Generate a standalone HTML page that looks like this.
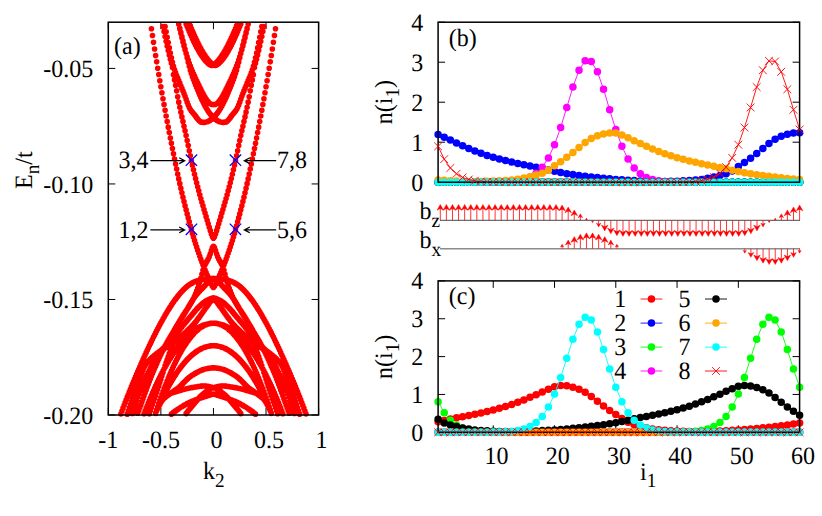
<!DOCTYPE html>
<html><head><meta charset="utf-8"><title>figure</title>
<style>html,body{margin:0;padding:0;background:#fff}svg{display:block}text{font-family:"Liberation Serif", serif;fill:#000;text-rendering:geometricPrecision}</style>
</head><body>
<svg width="822" height="516" viewBox="0 0 822 516">
<rect width="822" height="516" fill="#fff"/>
<g id="pa">
<path d="M108.3 68.41h7 M318.6 68.41h-7M108.3 183.94h7 M318.6 183.94h-7M108.3 299.47h7 M318.6 299.47h-7M108.3 415h7 M318.6 415h-7M108.3 415v-7 M108.3 22.2v7M160.88 415v-7 M160.88 22.2v7M213.45 415v-7 M213.45 22.2v7M266.03 415v-7 M266.03 22.2v7M318.6 415v-7 M318.6 22.2v7" stroke="#000" stroke-width="1" fill="none"/>
<clipPath id="ca"><rect x="105.3" y="22" width="216.3" height="396"/></clipPath>
<path clip-path="url(#ca)" d="M151.41 28.8h.01M152.46 35.55h.01M153.51 42.29h.01M154.57 48.94h.01M155.62 55.45h.01M156.67 61.86h.01M157.72 68.21h.01M158.77 74.49h.01M159.82 80.69h.01M160.88 86.8h.01M161.93 92.82h.01M162.98 98.73h.01M164.03 104.57h.01M165.08 110.32h.01M166.13 116h.01M167.18 121.61h.01M168.24 127.14h.01M169.29 132.59h.01M170.34 137.96h.01M171.39 143.26h.01M172.44 148.53h.01M173.49 153.76h.01M174.54 158.93h.01M175.6 164.05h.01M176.65 169.09h.01M177.7 174.05h.01M178.75 178.91h.01M179.8 183.66h.01M180.85 188.29h.01M181.91 192.79h.01M182.96 197.19h.01M184.01 201.49h.01M185.06 205.71h.01M186.11 209.85h.01M187.16 213.91h.01M188.21 217.91h.01M189.27 221.86h.01M190.32 225.76h.01M191.37 229.62h.01M192.42 233.42h.01M193.47 237.09h.01M194.52 240.55h.01M195.57 243.87h.01M196.63 247.11h.01M197.68 250.27h.01M198.73 253.34h.01M199.78 256.34h.01M200.83 259.26h.01M201.88 262.1h.01M202.94 264.87h.01M203.99 267.55h.01M205.04 270.11h.01M206.09 272.59h.01M207.14 275.02h.01M208.19 277.41h.01M209.24 279.81h.01M210.3 282.14h.01M211.35 284.31h.01M212.4 286.23h.01M213.45 287.4h.01M214.5 286.23h.01M215.55 284.31h.01M216.6 282.14h.01M217.66 279.81h.01M218.71 277.41h.01M219.76 275.02h.01M220.81 272.59h.01M221.86 270.11h.01M222.91 267.55h.01M223.97 264.87h.01M225.02 262.1h.01M226.07 259.26h.01M227.12 256.34h.01M228.17 253.34h.01M229.22 250.27h.01M230.27 247.11h.01M231.33 243.87h.01M232.38 240.55h.01M233.43 237.09h.01M234.48 233.42h.01M235.53 229.62h.01M236.58 225.76h.01M237.63 221.86h.01M238.69 217.91h.01M239.74 213.91h.01M240.79 209.85h.01M241.84 205.71h.01M242.89 201.49h.01M243.94 197.19h.01M245 192.79h.01M246.05 188.29h.01M247.1 183.66h.01M248.15 178.91h.01M249.2 174.05h.01M250.25 169.09h.01M251.3 164.05h.01M252.36 158.93h.01M253.41 153.76h.01M254.46 148.53h.01M255.51 143.26h.01M256.56 137.96h.01M257.61 132.59h.01M258.66 127.14h.01M259.72 121.61h.01M260.77 116h.01M261.82 110.32h.01M262.87 104.57h.01M263.92 98.73h.01M264.97 92.82h.01M266.02 86.8h.01M267.08 80.69h.01M268.13 74.49h.01M269.18 68.21h.01M270.23 61.86h.01M271.28 55.45h.01M272.33 48.94h.01M273.39 42.29h.01M274.44 35.55h.01M275.49 28.8h.01M162.98 26.55h.01M164.03 31.61h.01M165.08 36.52h.01M166.13 41.3h.01M167.18 45.96h.01M168.24 50.51h.01M169.29 54.96h.01M170.34 59.33h.01M171.39 63.27h.01M172.44 67.61h.01M173.49 74.66h.01M174.54 79.89h.01M175.6 85.2h.01M176.65 90.85h.01M177.7 96.74h.01M178.75 102.17h.01M179.8 107.27h.01M180.85 112.16h.01M181.91 116.91h.01M182.96 121.57h.01M184.01 126.2h.01M185.06 130.85h.01M186.11 135.59h.01M187.16 140.46h.01M188.21 145.55h.01M189.27 150.75h.01M190.32 155.87h.01M191.37 160.73h.01M192.42 165.36h.01M193.47 169.87h.01M194.52 174.27h.01M195.57 178.56h.01M196.63 182.75h.01M197.68 186.85h.01M198.73 190.87h.01M199.78 194.75h.01M200.83 198.53h.01M201.88 202.21h.01M202.94 205.85h.01M203.99 209.47h.01M205.04 213.09h.01M206.09 216.66h.01M207.14 220.2h.01M208.19 223.73h.01M209.24 227.23h.01M210.3 230.67h.01M211.35 233.95h.01M212.4 236.82h.01M213.45 238.2h.01M214.5 236.82h.01M215.55 233.95h.01M216.6 230.67h.01M217.66 227.23h.01M218.71 223.73h.01M219.76 220.2h.01M220.81 216.66h.01M221.86 213.09h.01M222.91 209.47h.01M223.97 205.85h.01M225.02 202.21h.01M226.07 198.53h.01M227.12 194.75h.01M228.17 190.87h.01M229.22 186.85h.01M230.27 182.75h.01M231.33 178.56h.01M232.38 174.27h.01M233.43 169.87h.01M234.48 165.36h.01M235.53 160.73h.01M236.58 155.87h.01M237.63 150.75h.01M238.69 145.55h.01M239.74 140.46h.01M240.79 135.59h.01M241.84 130.85h.01M242.89 126.2h.01M243.94 121.57h.01M245 116.91h.01M246.05 112.16h.01M247.1 107.27h.01M248.15 102.17h.01M249.2 96.74h.01M250.25 90.85h.01M251.3 85.2h.01M252.36 79.89h.01M253.41 74.66h.01M254.46 67.61h.01M255.51 63.27h.01M256.56 59.33h.01M257.61 54.96h.01M258.66 50.51h.01M259.72 45.96h.01M260.77 41.3h.01M261.82 36.52h.01M262.87 31.61h.01M263.92 26.55h.01M186.11 23.89h.01M187.16 26.51h.01M188.21 29.06h.01M189.27 31.55h.01M190.32 33.98h.01M191.37 36.35h.01M192.42 38.64h.01M193.47 40.88h.01M194.52 43.04h.01M195.57 45.13h.01M196.63 47.14h.01M197.68 49.08h.01M198.73 50.94h.01M199.78 52.72h.01M200.83 54.42h.01M201.88 56.03h.01M202.94 57.55h.01M203.99 58.97h.01M205.04 60.29h.01M206.09 61.5h.01M207.14 62.59h.01M208.19 63.55h.01M209.24 64.37h.01M210.3 65.01h.01M211.35 65.43h.01M212.4 65.36h.01M213.45 64.88h.01M214.5 64.19h.01M215.55 63.34h.01M216.6 62.35h.01M217.66 61.23h.01M218.71 59.99h.01M219.76 58.65h.01M220.81 57.2h.01M221.86 55.66h.01M222.91 54.03h.01M223.97 52.32h.01M225.02 50.52h.01M226.07 48.64h.01M227.12 46.68h.01M228.17 44.64h.01M229.22 42.54h.01M230.27 40.36h.01M231.33 38.11h.01M232.38 35.8h.01M233.43 33.42h.01M234.48 30.98h.01M235.53 28.47h.01M236.58 25.9h.01M237.63 23.27h.01M189.27 23.27h.01M190.32 25.9h.01M191.37 28.47h.01M192.42 30.98h.01M193.47 33.42h.01M194.52 35.8h.01M195.57 38.11h.01M196.63 40.36h.01M197.68 42.54h.01M198.73 44.64h.01M199.78 46.68h.01M200.83 48.64h.01M201.88 50.52h.01M202.94 52.32h.01M203.99 54.03h.01M205.04 55.66h.01M206.09 57.2h.01M207.14 58.65h.01M208.19 59.99h.01M209.24 61.23h.01M210.3 62.35h.01M211.35 63.34h.01M212.4 64.19h.01M213.45 64.88h.01M214.5 65.36h.01M215.55 65.43h.01M216.6 65.01h.01M217.66 64.37h.01M218.71 63.55h.01M219.76 62.59h.01M220.81 61.5h.01M221.86 60.29h.01M222.91 58.97h.01M223.97 57.55h.01M225.02 56.03h.01M226.07 54.42h.01M227.12 52.72h.01M228.17 50.94h.01M229.22 49.08h.01M230.27 47.14h.01M231.33 45.13h.01M232.38 43.04h.01M233.43 40.88h.01M234.48 38.64h.01M235.53 36.35h.01M236.58 33.98h.01M237.63 31.55h.01M238.69 29.06h.01M239.74 26.51h.01M240.79 23.89h.01M178.75 24.23h.01M179.8 28.88h.01M180.85 33.37h.01M181.91 37.71h.01M182.96 41.88h.01M184.01 45.88h.01M185.06 49.71h.01M186.11 53.36h.01M187.16 56.84h.01M188.21 60.12h.01M189.27 63.22h.01M190.32 66.12h.01M191.37 68.83h.01M192.42 71.37h.01M193.47 73.79h.01M194.52 76.14h.01M195.57 78.44h.01M196.63 80.7h.01M197.68 82.91h.01M198.73 85.1h.01M199.78 87.25h.01M200.83 89.38h.01M201.88 91.47h.01M202.94 93.52h.01M203.99 95.48h.01M205.04 97.33h.01M206.09 99.03h.01M207.14 100.56h.01M208.19 101.87h.01M209.24 102.94h.01M210.3 103.75h.01M211.35 104.28h.01M212.4 104.57h.01M213.45 104.61h.01M214.5 104.57h.01M215.55 104.28h.01M216.6 103.75h.01M217.66 102.94h.01M218.71 101.87h.01M219.76 100.56h.01M220.81 99.03h.01M221.86 97.33h.01M222.91 95.48h.01M223.97 93.52h.01M225.02 91.47h.01M226.07 89.38h.01M227.12 87.25h.01M228.17 85.1h.01M229.22 82.91h.01M230.27 80.7h.01M231.33 78.44h.01M232.38 76.14h.01M233.43 73.79h.01M234.48 71.37h.01M235.53 68.83h.01M236.58 66.12h.01M237.63 63.22h.01M238.69 60.12h.01M239.74 56.84h.01M240.79 53.36h.01M241.84 49.71h.01M242.89 45.88h.01M243.94 41.88h.01M245 37.71h.01M246.05 33.37h.01M247.1 28.88h.01M248.15 24.23h.01M165.08 26.49h.01M166.13 31.83h.01M167.18 37.23h.01M168.24 42.61h.01M169.29 47.88h.01M170.34 52.95h.01M171.39 57.76h.01M172.44 62.2h.01M173.49 66.21h.01M174.54 69.71h.01M175.6 72.77h.01M176.65 75.52h.01M177.7 78.08h.01M178.75 80.57h.01M179.8 83.11h.01M180.85 85.72h.01M181.91 88.33h.01M182.96 90.88h.01M184.01 93.45h.01M185.06 96.22h.01M186.11 99.23h.01M187.16 102.28h.01M188.21 105.12h.01M189.27 107.53h.01M190.32 109.43h.01M191.37 110.94h.01M192.42 112.24h.01M193.47 113.45h.01M194.52 114.74h.01M195.57 116.17h.01M196.63 117.66h.01M197.68 119.08h.01M198.73 120.33h.01M199.78 121.28h.01M200.83 121.9h.01M201.88 122.24h.01M202.94 122.36h.01M203.99 122.35h.01M205.04 122.23h.01M206.09 122.02h.01M207.14 121.71h.01M208.19 121.3h.01M209.24 120.78h.01M210.3 120.16h.01M211.35 119.43h.01M212.4 118.59h.01M213.45 117.64h.01M214.5 116.59h.01M215.55 115.41h.01M216.6 114.12h.01M217.66 112.72h.01M218.71 111.19h.01M219.76 109.55h.01M220.81 107.78h.01M221.86 105.9h.01M222.91 103.92h.01M223.97 101.83h.01M225.02 99.65h.01M226.07 97.38h.01M227.12 95.03h.01M228.17 92.6h.01M229.22 90.11h.01M230.27 87.55h.01M231.33 84.94h.01M232.38 82.28h.01M233.43 79.56h.01M234.48 76.7h.01M235.53 73.61h.01M236.58 70.19h.01M237.63 66.36h.01M238.69 62.13h.01M239.74 57.8h.01M240.79 53.5h.01M241.84 49.24h.01M242.89 45h.01M243.94 40.79h.01M245 36.59h.01M246.05 32.41h.01M247.1 28.23h.01M248.15 24.05h.01M178.75 24.05h.01M179.8 28.23h.01M180.85 32.41h.01M181.91 36.59h.01M182.96 40.79h.01M184.01 45h.01M185.06 49.24h.01M186.11 53.5h.01M187.16 57.8h.01M188.21 62.13h.01M189.27 66.36h.01M190.32 70.19h.01M191.37 73.61h.01M192.42 76.7h.01M193.47 79.56h.01M194.52 82.28h.01M195.57 84.94h.01M196.63 87.55h.01M197.68 90.11h.01M198.73 92.6h.01M199.78 95.03h.01M200.83 97.38h.01M201.88 99.65h.01M202.94 101.83h.01M203.99 103.92h.01M205.04 105.9h.01M206.09 107.78h.01M207.14 109.55h.01M208.19 111.19h.01M209.24 112.72h.01M210.3 114.12h.01M211.35 115.41h.01M212.4 116.59h.01M213.45 117.64h.01M214.5 118.59h.01M215.55 119.43h.01M216.6 120.16h.01M217.66 120.78h.01M218.71 121.3h.01M219.76 121.71h.01M220.81 122.02h.01M221.86 122.23h.01M222.91 122.35h.01M223.97 122.36h.01M225.02 122.24h.01M226.07 121.9h.01M227.12 121.28h.01M228.17 120.33h.01M229.22 119.08h.01M230.27 117.66h.01M231.33 116.17h.01M232.38 114.74h.01M233.43 113.45h.01M234.48 112.24h.01M235.53 110.94h.01M236.58 109.43h.01M237.63 107.53h.01M238.69 105.12h.01M239.74 102.28h.01M240.79 99.23h.01M241.84 96.22h.01M242.89 93.45h.01M243.94 90.88h.01M245 88.33h.01M246.05 85.72h.01M247.1 83.11h.01M248.15 80.57h.01M249.2 78.08h.01M250.25 75.52h.01M251.3 72.77h.01M252.36 69.71h.01M253.41 66.21h.01M254.46 62.2h.01M255.51 57.76h.01M256.56 52.95h.01M257.61 47.88h.01M258.66 42.61h.01M259.72 37.23h.01M260.77 31.83h.01M261.82 26.49h.01M120.92 413.87h.01M121.97 410.99h.01M123.02 408.15h.01M124.07 405.34h.01M125.12 402.58h.01M126.18 399.84h.01M127.23 397.14h.01M128.28 394.47h.01M129.33 391.84h.01M130.38 389.23h.01M131.43 386.65h.01M132.48 384.09h.01M133.54 381.56h.01M134.59 379.05h.01M135.64 376.56h.01M136.69 374.1h.01M137.74 371.65h.01M138.79 369.22h.01M139.84 366.8h.01M140.9 364.4h.01M141.95 362.01h.01M143 359.65h.01M144.05 357.3h.01M145.1 354.97h.01M146.15 352.66h.01M147.21 350.37h.01M148.26 348.11h.01M149.31 345.86h.01M150.36 343.64h.01M151.41 341.44h.01M152.46 339.27h.01M153.51 337.12h.01M154.57 335h.01M155.62 332.9h.01M156.67 330.83h.01M157.72 328.79h.01M158.77 326.78h.01M159.82 324.8h.01M160.88 322.85h.01M161.93 320.93h.01M162.98 319.04h.01M164.03 317.19h.01M165.08 315.36h.01M166.13 313.58h.01M167.18 311.82h.01M168.24 310.11h.01M169.29 308.42h.01M170.34 306.78h.01M171.39 305.17h.01M172.44 303.61h.01M173.49 302.08h.01M174.54 300.59h.01M175.6 299.15h.01M176.65 297.74h.01M177.7 296.39h.01M178.75 295.08h.01M179.8 293.81h.01M180.85 292.6h.01M181.91 291.43h.01M182.96 290.32h.01M184.01 289.26h.01M185.06 288.26h.01M186.11 287.31h.01M187.16 286.42h.01M188.21 285.6h.01M189.27 284.83h.01M190.32 284.12h.01M191.37 283.47h.01M192.42 282.88h.01M193.47 282.34h.01M194.52 281.85h.01M195.57 281.41h.01M196.63 281.01h.01M197.68 280.66h.01M198.73 280.34h.01M199.78 280.06h.01M200.83 279.81h.01M201.88 279.59h.01M202.94 279.4h.01M203.99 279.23h.01M205.04 279.09h.01M206.09 278.96h.01M207.14 278.85h.01M208.19 278.75h.01M209.24 278.66h.01M210.3 278.58h.01M211.35 278.5h.01M212.4 278.43h.01M213.45 278.35h.01M214.5 278.43h.01M215.55 278.5h.01M216.6 278.58h.01M217.66 278.66h.01M218.71 278.75h.01M219.76 278.85h.01M220.81 278.96h.01M221.86 279.09h.01M222.91 279.23h.01M223.97 279.4h.01M225.02 279.59h.01M226.07 279.81h.01M227.12 280.06h.01M228.17 280.34h.01M229.22 280.66h.01M230.27 281.01h.01M231.33 281.41h.01M232.38 281.85h.01M233.43 282.34h.01M234.48 282.88h.01M235.53 283.47h.01M236.58 284.12h.01M237.63 284.83h.01M238.69 285.6h.01M239.74 286.42h.01M240.79 287.31h.01M241.84 288.26h.01M242.89 289.26h.01M243.94 290.32h.01M245 291.43h.01M246.05 292.6h.01M247.1 293.81h.01M248.15 295.08h.01M249.2 296.39h.01M250.25 297.74h.01M251.3 299.15h.01M252.36 300.59h.01M253.41 302.08h.01M254.46 303.61h.01M255.51 305.17h.01M256.56 306.78h.01M257.61 308.42h.01M258.66 310.11h.01M259.72 311.82h.01M260.77 313.58h.01M261.82 315.36h.01M262.87 317.19h.01M263.92 319.04h.01M264.97 320.93h.01M266.02 322.85h.01M267.08 324.8h.01M268.13 326.78h.01M269.18 328.79h.01M270.23 330.83h.01M271.28 332.9h.01M272.33 335h.01M273.39 337.12h.01M274.44 339.27h.01M275.49 341.44h.01M276.54 343.64h.01M277.59 345.86h.01M278.64 348.11h.01M279.69 350.37h.01M280.75 352.66h.01M281.8 354.97h.01M282.85 357.3h.01M283.9 359.65h.01M284.95 362.01h.01M286 364.4h.01M287.06 366.8h.01M288.11 369.22h.01M289.16 371.65h.01M290.21 374.1h.01M291.26 376.56h.01M292.31 379.05h.01M293.36 381.56h.01M294.42 384.09h.01M295.47 386.65h.01M296.52 389.23h.01M297.57 391.84h.01M298.62 394.47h.01M299.67 397.14h.01M300.72 399.84h.01M301.78 402.58h.01M302.83 405.34h.01M303.88 408.15h.01M304.93 410.99h.01M305.98 413.87h.01M181.91 317.81h.01M182.96 316.17h.01M184.01 314.51h.01M185.06 312.8h.01M186.11 311.07h.01M187.16 309.28h.01M188.21 307.41h.01M189.27 305.53h.01M190.32 303.72h.01M191.37 302h.01M192.42 300.32h.01M193.47 298.71h.01M194.52 297.2h.01M195.57 295.8h.01M196.63 294.49h.01M197.68 293.24h.01M198.73 292.05h.01M199.78 290.91h.01M200.83 289.81h.01M201.88 288.74h.01M202.94 287.67h.01M203.99 286.6h.01M205.04 285.49h.01M206.09 284.36h.01M207.14 283.25h.01M208.19 282.2h.01M209.24 281.24h.01M210.3 280.41h.01M211.35 279.71h.01M212.4 279.11h.01M213.45 278.6h.01M214.5 279.11h.01M215.55 279.71h.01M216.6 280.41h.01M217.66 281.24h.01M218.71 282.2h.01M219.76 283.25h.01M220.81 284.36h.01M221.86 285.49h.01M222.91 286.6h.01M223.97 287.67h.01M225.02 288.74h.01M226.07 289.81h.01M227.12 290.91h.01M228.17 292.05h.01M229.22 293.24h.01M230.27 294.49h.01M231.33 295.8h.01M232.38 297.2h.01M233.43 298.71h.01M234.48 300.32h.01M235.53 302h.01M236.58 303.72h.01M237.63 305.53h.01M238.69 307.41h.01M239.74 309.28h.01M240.79 311.07h.01M241.84 312.8h.01M242.89 314.51h.01M243.94 316.17h.01M245 317.81h.01M137.74 413.2h.01M138.79 410.4h.01M139.84 407.54h.01M140.9 404.64h.01M141.95 401.7h.01M143 398.74h.01M144.05 395.78h.01M145.1 392.83h.01M146.15 389.9h.01M147.21 387.01h.01M148.26 384.17h.01M149.31 381.39h.01M150.36 378.7h.01M151.41 376.09h.01M152.46 373.56h.01M153.51 371.05h.01M154.57 368.58h.01M155.62 366.14h.01M156.67 363.74h.01M157.72 361.37h.01M158.77 359.05h.01M159.82 356.77h.01M160.88 354.53h.01M161.93 352.33h.01M162.98 350.18h.01M164.03 348.08h.01M165.08 346.04h.01M166.13 344.06h.01M167.18 342.15h.01M168.24 340.31h.01M169.29 338.51h.01M170.34 336.74h.01M171.39 334.98h.01M172.44 333.21h.01M173.49 331.43h.01M174.54 329.63h.01M175.6 327.84h.01M176.65 326.05h.01M177.7 324.28h.01M178.75 322.51h.01M179.8 320.74h.01M180.85 318.99h.01M181.91 317.25h.01M182.96 315.58h.01M184.01 313.98h.01M185.06 312.4h.01M186.11 310.85h.01M187.16 309.29h.01M188.21 307.7h.01M189.27 306.06h.01M190.32 304.35h.01M191.37 302.55h.01M192.42 300.63h.01M193.47 298.57h.01M194.52 296.33h.01M195.57 293.85h.01M196.63 291.15h.01M197.68 288.27h.01M198.73 285.22h.01M199.78 282.03h.01M200.83 278.29h.01M201.88 274.2h.01M202.94 270.34h.01M203.99 267.25h.01M205.04 264.85h.01M206.09 262.81h.01M207.14 260.91h.01M208.19 258.94h.01M209.24 256.67h.01M210.3 253.75h.01M211.35 250.45h.01M212.4 247.58h.01M213.45 246.2h.01M214.5 247.58h.01M215.55 250.45h.01M216.6 253.75h.01M217.66 256.67h.01M218.71 258.94h.01M219.76 260.91h.01M220.81 262.81h.01M221.86 264.85h.01M222.91 267.25h.01M223.97 270.34h.01M225.02 274.2h.01M226.07 278.29h.01M227.12 282.03h.01M228.17 285.22h.01M229.22 288.27h.01M230.27 291.15h.01M231.33 293.85h.01M232.38 296.33h.01M233.43 298.57h.01M234.48 300.63h.01M235.53 302.55h.01M236.58 304.35h.01M237.63 306.06h.01M238.69 307.7h.01M239.74 309.29h.01M240.79 310.85h.01M241.84 312.4h.01M242.89 313.98h.01M243.94 315.58h.01M245 317.25h.01M246.05 318.99h.01M247.1 320.74h.01M248.15 322.51h.01M249.2 324.28h.01M250.25 326.05h.01M251.3 327.84h.01M252.36 329.63h.01M253.41 331.43h.01M254.46 333.21h.01M255.51 334.98h.01M256.56 336.74h.01M257.61 338.51h.01M258.66 340.31h.01M259.72 342.15h.01M260.77 344.06h.01M261.82 346.04h.01M262.87 348.08h.01M263.92 350.18h.01M264.97 352.33h.01M266.02 354.53h.01M267.08 356.77h.01M268.13 359.05h.01M269.18 361.37h.01M270.23 363.74h.01M271.28 366.14h.01M272.33 368.58h.01M273.39 371.05h.01M274.44 373.56h.01M275.49 376.09h.01M276.54 378.7h.01M277.59 381.39h.01M278.64 384.17h.01M279.69 387.01h.01M280.75 389.9h.01M281.8 392.83h.01M282.85 395.78h.01M283.9 398.74h.01M284.95 401.7h.01M286 404.64h.01M287.06 407.54h.01M288.11 410.4h.01M289.16 413.2h.01M127.23 414.15h.01M128.28 410.93h.01M129.33 407.75h.01M130.38 404.61h.01M131.43 401.51h.01M132.48 398.45h.01M133.54 395.42h.01M134.59 392.43h.01M135.64 389.47h.01M136.69 386.53h.01M137.74 383.63h.01M138.79 380.79h.01M139.84 378.04h.01M140.9 375.37h.01M141.95 372.63h.01M143 369.97h.01M144.05 367.55h.01M145.1 365.58h.01M146.15 364h.01M147.21 362.61h.01M148.26 361.36h.01M149.31 360.23h.01M150.36 359.16h.01M151.41 358.13h.01M152.46 357.12h.01M153.51 356.18h.01M154.57 355.3h.01M155.62 354.46h.01M156.67 353.65h.01M157.72 352.86h.01M158.77 352.07h.01M159.82 351.27h.01M160.88 350.44h.01M161.93 349.57h.01M162.98 348.64h.01M164.03 347.65h.01M165.08 346.61h.01M166.13 345.53h.01M167.18 344.42h.01M168.24 343.28h.01M169.29 342.1h.01M170.34 340.91h.01M171.39 339.69h.01M172.44 338.44h.01M173.49 337.19h.01M174.54 335.91h.01M175.6 334.63h.01M176.65 333.34h.01M177.7 332.04h.01M178.75 330.75h.01M179.8 329.45h.01M180.85 328.15h.01M181.91 326.87h.01M182.96 325.59h.01M184.01 324.33h.01M185.06 323.07h.01M186.11 321.8h.01M187.16 320.53h.01M188.21 319.26h.01M189.27 318h.01M190.32 316.74h.01M191.37 315.48h.01M192.42 314.22h.01M193.47 312.94h.01M194.52 311.66h.01M195.57 310.43h.01M196.63 309.27h.01M197.68 308.16h.01M198.73 307.09h.01M199.78 306.06h.01M200.83 305.06h.01M201.88 304.08h.01M202.94 303.16h.01M203.99 302.35h.01M205.04 301.6h.01M206.09 300.9h.01M207.14 300.27h.01M208.19 299.73h.01M209.24 299.25h.01M210.3 298.81h.01M211.35 298.41h.01M212.4 298.07h.01M213.45 297.8h.01M214.5 298.07h.01M215.55 298.41h.01M216.6 298.81h.01M217.66 299.25h.01M218.71 299.73h.01M219.76 300.27h.01M220.81 300.9h.01M221.86 301.6h.01M222.91 302.35h.01M223.97 303.16h.01M225.02 304.08h.01M226.07 305.06h.01M227.12 306.06h.01M228.17 307.09h.01M229.22 308.16h.01M230.27 309.27h.01M231.33 310.43h.01M232.38 311.66h.01M233.43 312.94h.01M234.48 314.22h.01M235.53 315.48h.01M236.58 316.74h.01M237.63 318h.01M238.69 319.26h.01M239.74 320.53h.01M240.79 321.8h.01M241.84 323.07h.01M242.89 324.33h.01M243.94 325.59h.01M245 326.87h.01M246.05 328.15h.01M247.1 329.45h.01M248.15 330.75h.01M249.2 332.04h.01M250.25 333.34h.01M251.3 334.63h.01M252.36 335.91h.01M253.41 337.19h.01M254.46 338.44h.01M255.51 339.69h.01M256.56 340.91h.01M257.61 342.1h.01M258.66 343.28h.01M259.72 344.42h.01M260.77 345.53h.01M261.82 346.61h.01M262.87 347.65h.01M263.92 348.64h.01M264.97 349.57h.01M266.02 350.44h.01M267.08 351.27h.01M268.13 352.07h.01M269.18 352.86h.01M270.23 353.65h.01M271.28 354.46h.01M272.33 355.3h.01M273.39 356.18h.01M274.44 357.12h.01M275.49 358.13h.01M276.54 359.16h.01M277.59 360.23h.01M278.64 361.36h.01M279.69 362.61h.01M280.75 364h.01M281.8 365.58h.01M282.85 367.55h.01M283.9 369.97h.01M284.95 372.63h.01M286 375.37h.01M287.06 378.04h.01M288.11 380.79h.01M289.16 383.63h.01M290.21 386.53h.01M291.26 389.47h.01M292.31 392.43h.01M293.36 395.42h.01M294.42 398.45h.01M295.47 401.51h.01M296.52 404.61h.01M297.57 407.75h.01M298.62 410.93h.01M299.67 414.15h.01M149.31 413.63h.01M150.36 410.53h.01M151.41 407.48h.01M152.46 404.47h.01M153.51 401.46h.01M154.57 398.45h.01M155.62 395.41h.01M156.67 392.33h.01M157.72 389.18h.01M158.77 385.94h.01M159.82 382.6h.01M160.88 379.22h.01M161.93 375.81h.01M162.98 372.41h.01M164.03 369.05h.01M165.08 365.76h.01M166.13 362.59h.01M167.18 359.54h.01M168.24 356.56h.01M169.29 353.48h.01M170.34 350.45h.01M171.39 347.64h.01M172.44 345.22h.01M173.49 343.35h.01M174.54 341.97h.01M175.6 340.78h.01M176.65 339.74h.01M177.7 338.81h.01M178.75 337.97h.01M179.8 337.18h.01M180.85 336.41h.01M181.91 335.63h.01M182.96 334.81h.01M184.01 333.91h.01M185.06 332.92h.01M186.11 331.93h.01M187.16 330.92h.01M188.21 329.91h.01M189.27 328.89h.01M190.32 327.84h.01M191.37 326.76h.01M192.42 325.65h.01M193.47 324.51h.01M194.52 323.32h.01M195.57 322.06h.01M196.63 320.73h.01M197.68 319.35h.01M198.73 317.91h.01M199.78 316.45h.01M200.83 314.96h.01M201.88 313.46h.01M202.94 311.97h.01M203.99 310.49h.01M205.04 309.03h.01M206.09 307.61h.01M207.14 306.17h.01M208.19 304.65h.01M209.24 303.16h.01M210.3 301.84h.01M211.35 300.81h.01M212.4 300.06h.01M213.45 299.5h.01M214.5 300.06h.01M215.55 300.81h.01M216.6 301.84h.01M217.66 303.16h.01M218.71 304.65h.01M219.76 306.17h.01M220.81 307.61h.01M221.86 309.03h.01M222.91 310.49h.01M223.97 311.97h.01M225.02 313.46h.01M226.07 314.96h.01M227.12 316.45h.01M228.17 317.91h.01M229.22 319.35h.01M230.27 320.73h.01M231.33 322.06h.01M232.38 323.32h.01M233.43 324.51h.01M234.48 325.65h.01M235.53 326.76h.01M236.58 327.84h.01M237.63 328.89h.01M238.69 329.91h.01M239.74 330.92h.01M240.79 331.93h.01M241.84 332.92h.01M242.89 333.91h.01M243.94 334.81h.01M245 335.63h.01M246.05 336.41h.01M247.1 337.18h.01M248.15 337.97h.01M249.2 338.81h.01M250.25 339.74h.01M251.3 340.78h.01M252.36 341.97h.01M253.41 343.35h.01M254.46 345.22h.01M255.51 347.64h.01M256.56 350.45h.01M257.61 353.48h.01M258.66 356.56h.01M259.72 359.54h.01M260.77 362.59h.01M261.82 365.76h.01M262.87 369.05h.01M263.92 372.41h.01M264.97 375.81h.01M266.02 379.22h.01M267.08 382.6h.01M268.13 385.94h.01M269.18 389.18h.01M270.23 392.33h.01M271.28 395.41h.01M272.33 398.45h.01M273.39 401.46h.01M274.44 404.47h.01M275.49 407.48h.01M276.54 410.53h.01M277.59 413.63h.01M144.05 413.74h.01M145.1 411.02h.01M146.15 408.34h.01M147.21 405.7h.01M148.26 403.1h.01M149.31 400.55h.01M150.36 398.03h.01M151.41 395.56h.01M152.46 393.12h.01M153.51 390.73h.01M154.57 388.39h.01M155.62 386.08h.01M156.67 383.81h.01M157.72 381.59h.01M158.77 379.41h.01M159.82 377.27h.01M160.88 375.17h.01M161.93 373.11h.01M162.98 371.09h.01M164.03 369.12h.01M165.08 367.18h.01M166.13 365.29h.01M167.18 363.44h.01M168.24 361.63h.01M169.29 359.87h.01M170.34 358.14h.01M171.39 356.46h.01M172.44 354.82h.01M173.49 353.22h.01M174.54 351.66h.01M175.6 350.14h.01M176.65 348.66h.01M177.7 347.23h.01M178.75 345.84h.01M179.8 344.49h.01M180.85 343.18h.01M181.91 341.91h.01M182.96 340.68h.01M184.01 339.5h.01M185.06 338.35h.01M186.11 337.25h.01M187.16 336.19h.01M188.21 335.17h.01M189.27 334.2h.01M190.32 333.26h.01M191.37 332.37h.01M192.42 331.51h.01M193.47 330.7h.01M194.52 329.93h.01M195.57 329.21h.01M196.63 328.52h.01M197.68 327.88h.01M198.73 327.27h.01M199.78 326.71h.01M200.83 326.19h.01M201.88 325.72h.01M202.94 325.28h.01M203.99 324.88h.01M205.04 324.53h.01M206.09 324.22h.01M207.14 323.95h.01M208.19 323.72h.01M209.24 323.53h.01M210.3 323.39h.01M211.35 323.28h.01M212.4 323.22h.01M213.45 323.2h.01M214.5 323.22h.01M215.55 323.28h.01M216.6 323.39h.01M217.66 323.53h.01M218.71 323.72h.01M219.76 323.95h.01M220.81 324.22h.01M221.86 324.53h.01M222.91 324.88h.01M223.97 325.28h.01M225.02 325.72h.01M226.07 326.19h.01M227.12 326.71h.01M228.17 327.27h.01M229.22 327.88h.01M230.27 328.52h.01M231.33 329.21h.01M232.38 329.93h.01M233.43 330.7h.01M234.48 331.51h.01M235.53 332.37h.01M236.58 333.26h.01M237.63 334.2h.01M238.69 335.17h.01M239.74 336.19h.01M240.79 337.25h.01M241.84 338.35h.01M242.89 339.5h.01M243.94 340.68h.01M245 341.91h.01M246.05 343.18h.01M247.1 344.49h.01M248.15 345.84h.01M249.2 347.23h.01M250.25 348.66h.01M251.3 350.14h.01M252.36 351.66h.01M253.41 353.22h.01M254.46 354.82h.01M255.51 356.46h.01M256.56 358.14h.01M257.61 359.87h.01M258.66 361.63h.01M259.72 363.44h.01M260.77 365.29h.01M261.82 367.18h.01M262.87 369.12h.01M263.92 371.09h.01M264.97 373.11h.01M266.02 375.17h.01M267.08 377.27h.01M268.13 379.41h.01M269.18 381.59h.01M270.23 383.81h.01M271.28 386.08h.01M272.33 388.39h.01M273.39 390.73h.01M274.44 393.12h.01M275.49 395.56h.01M276.54 398.03h.01M277.59 400.55h.01M278.64 403.1h.01M279.69 405.7h.01M280.75 408.34h.01M281.8 411.02h.01M282.85 413.74h.01M155.62 413.5h.01M156.67 410.25h.01M157.72 407.06h.01M158.77 403.92h.01M159.82 400.85h.01M160.88 397.83h.01M161.93 394.88h.01M162.98 391.98h.01M164.03 389.14h.01M165.08 386.37h.01M166.13 383.65h.01M167.18 380.99h.01M168.24 378.4h.01M169.29 375.86h.01M170.34 373.38h.01M171.39 370.96h.01M172.44 368.61h.01M173.49 366.31h.01M174.54 364.07h.01M175.6 361.89h.01M176.65 359.77h.01M177.7 357.71h.01M178.75 355.71h.01M179.8 353.77h.01M180.85 351.89h.01M181.91 350.07h.01M182.96 348.31h.01M184.01 346.6h.01M185.06 344.96h.01M186.11 343.38h.01M187.16 341.86h.01M188.21 340.4h.01M189.27 338.99h.01M190.32 337.65h.01M191.37 336.37h.01M192.42 335.14h.01M193.47 333.98h.01M194.52 332.87h.01M195.57 331.83h.01M196.63 330.84h.01M197.68 329.92h.01M198.73 329.05h.01M199.78 328.25h.01M200.83 327.5h.01M201.88 326.81h.01M202.94 326.19h.01M203.99 325.62h.01M205.04 325.11h.01M206.09 324.66h.01M207.14 324.27h.01M208.19 323.95h.01M209.24 323.68h.01M210.3 323.47h.01M211.35 323.32h.01M212.4 323.23h.01M213.45 323.2h.01M214.5 323.23h.01M215.55 323.32h.01M216.6 323.47h.01M217.66 323.68h.01M218.71 323.95h.01M219.76 324.27h.01M220.81 324.66h.01M221.86 325.11h.01M222.91 325.62h.01M223.97 326.19h.01M225.02 326.81h.01M226.07 327.5h.01M227.12 328.25h.01M228.17 329.05h.01M229.22 329.92h.01M230.27 330.84h.01M231.33 331.83h.01M232.38 332.87h.01M233.43 333.98h.01M234.48 335.14h.01M235.53 336.37h.01M236.58 337.65h.01M237.63 338.99h.01M238.69 340.4h.01M239.74 341.86h.01M240.79 343.38h.01M241.84 344.96h.01M242.89 346.6h.01M243.94 348.31h.01M245 350.07h.01M246.05 351.89h.01M247.1 353.77h.01M248.15 355.71h.01M249.2 357.71h.01M250.25 359.77h.01M251.3 361.89h.01M252.36 364.07h.01M253.41 366.31h.01M254.46 368.61h.01M255.51 370.96h.01M256.56 373.38h.01M257.61 375.86h.01M258.66 378.4h.01M259.72 380.99h.01M260.77 383.65h.01M261.82 386.37h.01M262.87 389.14h.01M263.92 391.98h.01M264.97 394.88h.01M266.02 397.83h.01M267.08 400.85h.01M268.13 403.92h.01M269.18 407.06h.01M270.23 410.25h.01M271.28 413.5h.01M155.62 413.26h.01M156.67 410.83h.01M157.72 408.44h.01M158.77 406.09h.01M159.82 403.79h.01M160.88 401.54h.01M161.93 399.32h.01M162.98 397.16h.01M164.03 395.04h.01M165.08 392.96h.01M166.13 390.93h.01M167.18 388.94h.01M168.24 387h.01M169.29 385.1h.01M170.34 383.24h.01M171.39 381.43h.01M172.44 379.67h.01M173.49 377.95h.01M174.54 376.28h.01M175.6 374.65h.01M176.65 373.06h.01M177.7 371.52h.01M178.75 370.02h.01M179.8 368.57h.01M180.85 367.16h.01M181.91 365.8h.01M182.96 364.48h.01M184.01 363.21h.01M185.06 361.98h.01M186.11 360.8h.01M187.16 359.66h.01M188.21 358.56h.01M189.27 357.51h.01M190.32 356.51h.01M191.37 355.55h.01M192.42 354.63h.01M193.47 353.76h.01M194.52 352.94h.01M195.57 352.15h.01M196.63 351.42h.01M197.68 350.73h.01M198.73 350.08h.01M199.78 349.47h.01M200.83 348.92h.01M201.88 348.4h.01M202.94 347.93h.01M203.99 347.51h.01M205.04 347.13h.01M206.09 346.79h.01M207.14 346.5h.01M208.19 346.26h.01M209.24 346.06h.01M210.3 345.9h.01M211.35 345.79h.01M212.4 345.72h.01M213.45 345.7h.01M214.5 345.72h.01M215.55 345.79h.01M216.6 345.9h.01M217.66 346.06h.01M218.71 346.26h.01M219.76 346.5h.01M220.81 346.79h.01M221.86 347.13h.01M222.91 347.51h.01M223.97 347.93h.01M225.02 348.4h.01M226.07 348.92h.01M227.12 349.47h.01M228.17 350.08h.01M229.22 350.73h.01M230.27 351.42h.01M231.33 352.15h.01M232.38 352.94h.01M233.43 353.76h.01M234.48 354.63h.01M235.53 355.55h.01M236.58 356.51h.01M237.63 357.51h.01M238.69 358.56h.01M239.74 359.66h.01M240.79 360.8h.01M241.84 361.98h.01M242.89 363.21h.01M243.94 364.48h.01M245 365.8h.01M246.05 367.16h.01M247.1 368.57h.01M248.15 370.02h.01M249.2 371.52h.01M250.25 373.06h.01M251.3 374.65h.01M252.36 376.28h.01M253.41 377.95h.01M254.46 379.67h.01M255.51 381.43h.01M256.56 383.24h.01M257.61 385.1h.01M258.66 387h.01M259.72 388.94h.01M260.77 390.93h.01M261.82 392.96h.01M262.87 395.04h.01M263.92 397.16h.01M264.97 399.32h.01M266.02 401.54h.01M267.08 403.79h.01M268.13 406.09h.01M269.18 408.44h.01M270.23 410.83h.01M271.28 413.26h.01M155.62 413.26h.01M156.67 410.74h.01M157.72 408.46h.01M158.77 406.38h.01M159.82 404.38h.01M160.88 402.5h.01M161.93 400.84h.01M162.98 399.47h.01M164.03 398.36h.01M165.08 397.41h.01M166.13 396.56h.01M167.18 395.76h.01M168.24 394.97h.01M169.29 394.16h.01M170.34 393.41h.01M171.39 392.68h.01M172.44 391.98h.01M173.49 391.28h.01M174.54 390.58h.01M175.6 389.86h.01M176.65 389.11h.01M177.7 388.32h.01M178.75 387.46h.01M179.8 386.53h.01M180.85 385.53h.01M181.91 384.48h.01M182.96 383.41h.01M184.01 382.32h.01M185.06 381.23h.01M186.11 380.18h.01M187.16 379.16h.01M188.21 378.2h.01M189.27 377.31h.01M190.32 376.53h.01M191.37 375.81h.01M192.42 375.12h.01M193.47 374.44h.01M194.52 373.79h.01M195.57 373.15h.01M196.63 372.55h.01M197.68 371.98h.01M198.73 371.44h.01M199.78 370.93h.01M200.83 370.47h.01M201.88 370.04h.01M202.94 369.67h.01M203.99 369.33h.01M205.04 369.02h.01M206.09 368.74h.01M207.14 368.51h.01M208.19 368.33h.01M209.24 368.21h.01M210.3 368.09h.01M211.35 367.99h.01M212.4 367.92h.01M213.45 367.9h.01M214.5 367.92h.01M215.55 367.99h.01M216.6 368.09h.01M217.66 368.21h.01M218.71 368.33h.01M219.76 368.51h.01M220.81 368.74h.01M221.86 369.02h.01M222.91 369.33h.01M223.97 369.67h.01M225.02 370.04h.01M226.07 370.47h.01M227.12 370.93h.01M228.17 371.44h.01M229.22 371.98h.01M230.27 372.55h.01M231.33 373.15h.01M232.38 373.79h.01M233.43 374.44h.01M234.48 375.12h.01M235.53 375.81h.01M236.58 376.53h.01M237.63 377.31h.01M238.69 378.2h.01M239.74 379.16h.01M240.79 380.18h.01M241.84 381.23h.01M242.89 382.32h.01M243.94 383.41h.01M245 384.48h.01M246.05 385.53h.01M247.1 386.53h.01M248.15 387.46h.01M249.2 388.32h.01M250.25 389.11h.01M251.3 389.86h.01M252.36 390.58h.01M253.41 391.28h.01M254.46 391.98h.01M255.51 392.68h.01M256.56 393.41h.01M257.61 394.16h.01M258.66 394.97h.01M259.72 395.76h.01M260.77 396.56h.01M261.82 397.41h.01M262.87 398.36h.01M263.92 399.47h.01M264.97 400.84h.01M266.02 402.5h.01M267.08 404.38h.01M268.13 406.38h.01M269.18 408.46h.01M270.23 410.74h.01M271.28 413.26h.01M155.62 413.01h.01M156.67 409.99h.01M157.72 407.37h.01M158.77 405h.01M159.82 402.84h.01M160.88 400.93h.01M161.93 399.27h.01M162.98 397.78h.01M164.03 396.74h.01M165.08 396.04h.01M166.13 395.4h.01M167.18 394.83h.01M168.24 394.31h.01M169.29 393.85h.01M170.34 393.42h.01M171.39 393.03h.01M172.44 392.67h.01M173.49 392.33h.01M174.54 392.01h.01M175.6 391.7h.01M176.65 391.39h.01M177.7 391.08h.01M178.75 390.76h.01M179.8 390.45h.01M180.85 390.15h.01M181.91 389.85h.01M182.96 389.57h.01M184.01 389.29h.01M185.06 389.03h.01M186.11 388.77h.01M187.16 388.53h.01M188.21 388.29h.01M189.27 388.07h.01M190.32 387.86h.01M191.37 387.66h.01M192.42 387.47h.01M193.47 387.3h.01M194.52 387.12h.01M195.57 386.95h.01M196.63 386.77h.01M197.68 386.6h.01M198.73 386.44h.01M199.78 386.29h.01M200.83 386.17h.01M201.88 386.08h.01M202.94 386.02h.01M203.99 386h.01M205.04 386.03h.01M206.09 386.11h.01M207.14 386.23h.01M208.19 386.4h.01M209.24 386.59h.01M210.3 386.82h.01M211.35 387.07h.01M212.4 387.33h.01M213.45 387.6h.01M214.5 387.93h.01M215.55 388.36h.01M216.6 388.88h.01M217.66 389.48h.01M218.71 390.15h.01M219.76 390.88h.01M220.81 391.66h.01M221.86 392.48h.01M222.91 393.32h.01M223.97 394.18h.01M225.02 395.06h.01M226.07 396h.01M227.12 397.05h.01M228.17 398.19h.01M229.22 399.39h.01M230.27 400.65h.01M231.33 401.93h.01M232.38 403.21h.01M233.43 404.47h.01M234.48 405.72h.01M235.53 406.96h.01M236.58 408.22h.01M237.63 409.5h.01M238.69 410.82h.01M239.74 412.19h.01M240.79 413.62h.01M186.11 413.62h.01M187.16 412.19h.01M188.21 410.82h.01M189.27 409.5h.01M190.32 408.22h.01M191.37 406.96h.01M192.42 405.72h.01M193.47 404.47h.01M194.52 403.21h.01M195.57 401.93h.01M196.63 400.65h.01M197.68 399.39h.01M198.73 398.19h.01M199.78 397.05h.01M200.83 396h.01M201.88 395.06h.01M202.94 394.18h.01M203.99 393.32h.01M205.04 392.48h.01M206.09 391.66h.01M207.14 390.88h.01M208.19 390.15h.01M209.24 389.48h.01M210.3 388.88h.01M211.35 388.36h.01M212.4 387.93h.01M213.45 387.6h.01M214.5 387.33h.01M215.55 387.07h.01M216.6 386.82h.01M217.66 386.59h.01M218.71 386.4h.01M219.76 386.23h.01M220.81 386.11h.01M221.86 386.03h.01M222.91 386h.01M223.97 386.02h.01M225.02 386.08h.01M226.07 386.17h.01M227.12 386.29h.01M228.17 386.44h.01M229.22 386.6h.01M230.27 386.77h.01M231.33 386.95h.01M232.38 387.12h.01M233.43 387.3h.01M234.48 387.47h.01M235.53 387.66h.01M236.58 387.86h.01M237.63 388.07h.01M238.69 388.29h.01M239.74 388.53h.01M240.79 388.77h.01M241.84 389.03h.01M242.89 389.29h.01M243.94 389.57h.01M245 389.85h.01M246.05 390.15h.01M247.1 390.45h.01M248.15 390.76h.01M249.2 391.08h.01M250.25 391.39h.01M251.3 391.7h.01M252.36 392.01h.01M253.41 392.33h.01M254.46 392.67h.01M255.51 393.03h.01M256.56 393.42h.01M257.61 393.85h.01M258.66 394.31h.01M259.72 394.83h.01M260.77 395.4h.01M261.82 396.04h.01M262.87 396.74h.01M263.92 397.78h.01M264.97 399.27h.01M266.02 400.93h.01M267.08 402.84h.01M268.13 405h.01M269.18 407.37h.01M270.23 409.99h.01M271.28 413.01h.01M171.39 414.15h.01M172.44 413.25h.01M173.49 412.41h.01M174.54 411.63h.01M175.6 410.88h.01M176.65 410.14h.01M177.7 409.42h.01M178.75 408.71h.01M179.8 408.02h.01M180.85 407.34h.01M181.91 406.68h.01M182.96 406.03h.01M184.01 405.4h.01M185.06 404.8h.01M186.11 404.21h.01M187.16 403.64h.01M188.21 403.1h.01M189.27 402.58h.01M190.32 402.08h.01M191.37 401.61h.01M192.42 401.15h.01M193.47 400.7h.01M194.52 400.26h.01M195.57 399.84h.01M196.63 399.43h.01M197.68 399.02h.01M198.73 398.63h.01M199.78 398.25h.01M200.83 397.88h.01M201.88 397.51h.01M202.94 397.16h.01M203.99 396.81h.01M205.04 396.46h.01M206.09 396.13h.01M207.14 395.8h.01M208.19 395.48h.01M209.24 395.16h.01M210.3 394.85h.01M211.35 394.55h.01M212.4 394.27h.01M213.45 394h.01M214.5 394.27h.01M215.55 394.55h.01M216.6 394.85h.01M217.66 395.16h.01M218.71 395.48h.01M219.76 395.8h.01M220.81 396.13h.01M221.86 396.46h.01M222.91 396.81h.01M223.97 397.16h.01M225.02 397.51h.01M226.07 397.88h.01M227.12 398.25h.01M228.17 398.63h.01M229.22 399.02h.01M230.27 399.43h.01M231.33 399.84h.01M232.38 400.26h.01M233.43 400.7h.01M234.48 401.15h.01M235.53 401.61h.01M236.58 402.08h.01M237.63 402.58h.01M238.69 403.1h.01M239.74 403.64h.01M240.79 404.21h.01M241.84 404.8h.01M242.89 405.4h.01M243.94 406.03h.01M245 406.68h.01M246.05 407.34h.01M247.1 408.02h.01M248.15 408.71h.01M249.2 409.42h.01M250.25 410.14h.01M251.3 410.88h.01M252.36 411.63h.01M253.41 412.41h.01M254.46 413.25h.01M255.51 414.15h.01M132.48 413.57h.01M133.54 410.36h.01M134.59 407.09h.01M135.64 403.79h.01M136.69 400.53h.01M137.74 397.36h.01M138.79 394.34h.01M139.84 391.51h.01M140.9 388.92h.01M141.95 386.41h.01M143 383.95h.01M144.05 381.55h.01M145.1 379.2h.01M146.15 376.91h.01M147.21 374.68h.01M148.26 372.52h.01M149.31 370.43h.01M150.36 368.42h.01M151.41 366.48h.01M152.46 364.62h.01M153.51 362.85h.01M154.57 361.16h.01M155.62 359.57h.01M156.67 358.07h.01M157.72 356.62h.01M158.77 355.22h.01M159.82 353.87h.01M160.88 352.59h.01M161.93 351.37h.01M162.98 350.21h.01M164.03 349.12h.01M165.08 348.11h.01M166.13 347.17h.01M260.77 347.17h.01M261.82 348.11h.01M262.87 349.12h.01M263.92 350.21h.01M264.97 351.37h.01M266.02 352.59h.01M267.08 353.87h.01M268.13 355.22h.01M269.18 356.62h.01M270.23 358.07h.01M271.28 359.57h.01M272.33 361.16h.01M273.39 362.85h.01M274.44 364.62h.01M275.49 366.48h.01M276.54 368.42h.01M277.59 370.43h.01M278.64 372.52h.01M279.69 374.68h.01M280.75 376.91h.01M281.8 379.2h.01M282.85 381.55h.01M283.9 383.95h.01M284.95 386.41h.01M286 388.92h.01M287.06 391.51h.01M288.11 394.34h.01M289.16 397.36h.01M290.21 400.53h.01M291.26 403.79h.01M292.31 407.09h.01M293.36 410.36h.01M294.42 413.57h.01" stroke="#ff0000" stroke-width="5.6" stroke-linecap="round" fill="none"/>
<rect x="108.3" y="22.2" width="210.3" height="392.8" fill="none" stroke="#000" stroke-width="1.5"/>
<path d="M185.75 154.5l11.4 11.4M185.75 165.9l11.4 -11.4M229.75 154.5l11.4 11.4M229.75 165.9l11.4 -11.4M185.75 223.6l11.4 11.4M185.75 235l11.4 -11.4M229.75 223.6l11.4 11.4M229.75 235l11.4 -11.4" stroke="#0000ff" stroke-width="1.3" fill="none"/>
<path d="M150.4 160.7H184.6M179.2 157.8L184.6 160.7L179.2 163.6M276.2 160.7H244.4M249.8 157.8L244.4 160.7L249.8 163.6M150.4 229.9H184.6M179.2 227L184.6 229.9L179.2 232.8M276.2 229.9H244.4M249.8 227L244.4 229.9L249.8 232.8" stroke="#000" stroke-width="1.3" fill="none" stroke-linejoin="miter"/>
<text transform="translate(148.6 168.3) scale(0.96 1)" text-anchor="end" font-size="25">3,4</text>
<text transform="translate(148.6 238.2) scale(0.96 1)" text-anchor="end" font-size="25">1,2</text>
<text transform="translate(277 168.3) scale(0.96 1)" text-anchor="start" font-size="25">7,8</text>
<text transform="translate(277 238.2) scale(0.96 1)" text-anchor="start" font-size="25">5,6</text>
<text transform="translate(114 53.7) scale(0.96 1)" text-anchor="start" font-size="25">(a)</text>
<text transform="translate(93.3 77.06) scale(0.96 1)" text-anchor="end" font-size="25">-0.05</text>
<text transform="translate(93.3 192.59) scale(0.96 1)" text-anchor="end" font-size="25">-0.10</text>
<text transform="translate(93.3 308.12) scale(0.96 1)" text-anchor="end" font-size="25">-0.15</text>
<text transform="translate(93.3 423.65) scale(0.96 1)" text-anchor="end" font-size="25">-0.20</text>
<text transform="translate(108.3 447.6) scale(0.96 1)" text-anchor="middle" font-size="25">-1</text>
<text transform="translate(160.88 447.6) scale(0.96 1)" text-anchor="middle" font-size="25">-0.5</text>
<text transform="translate(216.45 447.6) scale(0.96 1)" text-anchor="middle" font-size="25">0</text>
<text transform="translate(269.03 447.6) scale(0.96 1)" text-anchor="middle" font-size="25">0.5</text>
<text transform="translate(321.6 447.6) scale(0.96 1)" text-anchor="middle" font-size="25">1</text>
<text transform="translate(203 479.4) scale(0.96 1)" text-anchor="start" font-size="25">k<tspan font-size="20" dy="7.2">2</tspan></text>
<text transform="translate(31.6 189) rotate(-90) scale(0.96 1)" text-anchor="start" font-size="25">E<tspan font-size="20" dy="7.2">n</tspan><tspan font-size="25" dy="-7.2">/t</tspan></text>
</g>
<g id="pb">
<path d="M438.1 182.2h7 M799.6 182.2h-7M438.1 142.2h7 M799.6 142.2h-7M438.1 102.2h7 M799.6 102.2h-7M438.1 62.2h7 M799.6 62.2h-7M438.1 22.2h7 M799.6 22.2h-7" stroke="#000" stroke-width="1" fill="none"/>
<polyline fill="none" stroke="#ff0000" stroke-width="0.9" points="438.1,182.2 444.23,182.2 450.35,182.2 456.48,182.2 462.61,182.2 468.74,182.2 474.86,182.2 480.99,182.2 487.12,182.2 493.24,182.2 499.37,182.2 505.5,182.2 511.63,182.2 517.75,182.2 523.88,182.2 530.01,182.2 536.13,182.2 542.26,182.2 548.39,182.2 554.52,182.2 560.64,182.2 566.77,182.2 572.9,182.2 579.02,182.2 585.15,182.2 591.28,182.2 597.41,182.2 603.53,182.2 609.66,182.2 615.79,182.2 621.91,182.2 628.04,182.2 634.17,182.2 640.29,182.2 646.42,182.2 652.55,182.2 658.68,182.2 664.8,182.2 670.93,182.2 677.06,182.2 683.18,182.2 689.31,182.2 695.44,182.2 701.57,182.2 707.69,182.2 713.82,182.2 719.95,182.2 726.07,182.2 732.2,182.2 738.33,182.2 744.46,182.2 750.58,182.2 756.71,182.2 762.84,182.2 768.96,182.2 775.09,182.2 781.22,182.2 787.35,182.2 793.47,182.2 799.6,182.2"/>
<path d="M438.1 182.2h.01M444.23 182.2h.01M450.35 182.2h.01M456.48 182.2h.01M462.61 182.2h.01M468.74 182.2h.01M474.86 182.2h.01M480.99 182.2h.01M487.12 182.2h.01M493.24 182.2h.01M499.37 182.2h.01M505.5 182.2h.01M511.63 182.2h.01M517.75 182.2h.01M523.88 182.2h.01M530.01 182.2h.01M536.13 182.2h.01M542.26 182.2h.01M548.39 182.2h.01M554.52 182.2h.01M560.64 182.2h.01M566.77 182.2h.01M572.9 182.2h.01M579.02 182.2h.01M585.15 182.2h.01M591.28 182.2h.01M597.41 182.2h.01M603.53 182.2h.01M609.66 182.2h.01M615.79 182.2h.01M621.91 182.2h.01M628.04 182.2h.01M634.17 182.2h.01M640.29 182.2h.01M646.42 182.2h.01M652.55 182.2h.01M658.68 182.2h.01M664.8 182.2h.01M670.93 182.2h.01M677.06 182.2h.01M683.18 182.2h.01M689.31 182.2h.01M695.44 182.2h.01M701.57 182.2h.01M707.69 182.2h.01M713.82 182.2h.01M719.95 182.2h.01M726.07 182.2h.01M732.2 182.2h.01M738.33 182.2h.01M744.46 182.2h.01M750.58 182.2h.01M756.71 182.2h.01M762.84 182.2h.01M768.96 182.2h.01M775.09 182.2h.01M781.22 182.2h.01M787.35 182.2h.01M793.47 182.2h.01M799.6 182.2h.01" stroke="#ff0000" stroke-width="7.5" stroke-linecap="round" fill="none"/>
<polyline fill="none" stroke="#0000ff" stroke-width="0.9" points="438.1,134.6 444.23,137.2 450.35,140.08 456.48,143 462.61,145.78 468.74,148.48 474.86,151 480.99,153.31 487.12,155.4 493.24,157.28 499.37,159.01 505.5,160.6 511.63,162.05 517.75,163.39 523.88,164.67 530.01,165.92 536.13,167.2 542.26,168.55 548.39,169.93 554.52,171.29 560.64,172.55 566.77,173.64 572.9,174.57 579.02,175.42 585.15,176.19 591.28,176.91 597.41,177.6 603.53,178.26 609.66,178.87 615.79,179.4 621.91,179.82 628.04,180.2 634.17,180.57 640.29,180.93 646.42,181.87 652.55,181.8 658.68,181.68 664.8,181.53 670.93,181.36 677.06,181.15 683.18,180.87 689.31,180.52 695.44,180.05 701.57,179.4 707.69,178.36 713.82,177 719.95,175.4 726.07,173.8 732.2,171 738.33,166.6 744.46,162.6 750.58,158.2 756.71,153.4 762.84,148.4 768.96,143.4 775.09,139.2 781.22,136.2 787.35,134.2 793.47,133 799.6,132.8"/>
<path d="M438.1 134.6h.01M444.23 137.2h.01M450.35 140.08h.01M456.48 143h.01M462.61 145.78h.01M468.74 148.48h.01M474.86 151h.01M480.99 153.31h.01M487.12 155.4h.01M493.24 157.28h.01M499.37 159.01h.01M505.5 160.6h.01M511.63 162.05h.01M517.75 163.39h.01M523.88 164.67h.01M530.01 165.92h.01M536.13 167.2h.01M542.26 168.55h.01M548.39 169.93h.01M554.52 171.29h.01M560.64 172.55h.01M566.77 173.64h.01M572.9 174.57h.01M579.02 175.42h.01M585.15 176.19h.01M591.28 176.91h.01M597.41 177.6h.01M603.53 178.26h.01M609.66 178.87h.01M615.79 179.4h.01M621.91 179.82h.01M628.04 180.2h.01M634.17 180.57h.01M640.29 180.93h.01M646.42 181.87h.01M652.55 181.8h.01M658.68 181.68h.01M664.8 181.53h.01M670.93 181.36h.01M677.06 181.15h.01M683.18 180.87h.01M689.31 180.52h.01M695.44 180.05h.01M701.57 179.4h.01M707.69 178.36h.01M713.82 177h.01M719.95 175.4h.01M726.07 173.8h.01M732.2 171h.01M738.33 166.6h.01M744.46 162.6h.01M750.58 158.2h.01M756.71 153.4h.01M762.84 148.4h.01M768.96 143.4h.01M775.09 139.2h.01M781.22 136.2h.01M787.35 134.2h.01M793.47 133h.01M799.6 132.8h.01" stroke="#0000ff" stroke-width="7.5" stroke-linecap="round" fill="none"/>
<polyline fill="none" stroke="#00ff00" stroke-width="0.9" points="438.1,182.2 444.23,182.2 450.35,182.2 456.48,182.2 462.61,182.2 468.74,182.2 474.86,182.2 480.99,182.2 487.12,182.2 493.24,182.2 499.37,182.2 505.5,182.2 511.63,182.2 517.75,182.2 523.88,182.2 530.01,182.2 536.13,182.2 542.26,182.2 548.39,182.2 554.52,182.2 560.64,182.2 566.77,182.2 572.9,182.2 579.02,182.2 585.15,182.2 591.28,182.2 597.41,182.2 603.53,182.2 609.66,182.2 615.79,182.2 621.91,182.2 628.04,182.2 634.17,182.2 640.29,182.2 646.42,182.2 652.55,182.2 658.68,182.2 664.8,182.2 670.93,182.2 677.06,182.2 683.18,182.2 689.31,182.2 695.44,182.2 701.57,182.2 707.69,182.2 713.82,182.2 719.95,182.2 726.07,182.2 732.2,182.2 738.33,182.2 744.46,182.2 750.58,182.2 756.71,182.2 762.84,182.2 768.96,182.2 775.09,182.2 781.22,182.2 787.35,182.2 793.47,182.2 799.6,182.2"/>
<path d="M438.1 182.2h.01M444.23 182.2h.01M450.35 182.2h.01M456.48 182.2h.01M462.61 182.2h.01M468.74 182.2h.01M474.86 182.2h.01M480.99 182.2h.01M487.12 182.2h.01M493.24 182.2h.01M499.37 182.2h.01M505.5 182.2h.01M511.63 182.2h.01M517.75 182.2h.01M523.88 182.2h.01M530.01 182.2h.01M536.13 182.2h.01M542.26 182.2h.01M548.39 182.2h.01M554.52 182.2h.01M560.64 182.2h.01M566.77 182.2h.01M572.9 182.2h.01M579.02 182.2h.01M585.15 182.2h.01M591.28 182.2h.01M597.41 182.2h.01M603.53 182.2h.01M609.66 182.2h.01M615.79 182.2h.01M621.91 182.2h.01M628.04 182.2h.01M634.17 182.2h.01M640.29 182.2h.01M646.42 182.2h.01M652.55 182.2h.01M658.68 182.2h.01M664.8 182.2h.01M670.93 182.2h.01M677.06 182.2h.01M683.18 182.2h.01M689.31 182.2h.01M695.44 182.2h.01M701.57 182.2h.01M707.69 182.2h.01M713.82 182.2h.01M719.95 182.2h.01M726.07 182.2h.01M732.2 182.2h.01M738.33 182.2h.01M744.46 182.2h.01M750.58 182.2h.01M756.71 182.2h.01M762.84 182.2h.01M768.96 182.2h.01M775.09 182.2h.01M781.22 182.2h.01M787.35 182.2h.01M793.47 182.2h.01M799.6 182.2h.01" stroke="#00ff00" stroke-width="7.5" stroke-linecap="round" fill="none"/>
<polyline fill="none" stroke="#ff00ff" stroke-width="0.9" points="438.1,182.2 444.23,182.2 450.35,182.2 456.48,182.2 462.61,182.2 468.74,182.19 474.86,182.18 480.99,182.17 487.12,182.14 493.24,182.08 499.37,181.97 505.5,181.76 511.63,181.37 517.75,180.65 523.88,179.35 530.01,177.09 536.13,173.29 542.26,167.19 548.39,157.9 554.52,144.72 560.64,127.55 566.77,107.47 572.9,87.09 579.02,70.24 585.15,60.87 591.28,61.44 597.41,71.79 603.53,89.23 609.66,109.75 615.79,129.61 621.91,146.37 628.04,159.1 634.17,168 640.29,173.81 646.42,177.41 652.55,179.53 658.68,180.75 664.8,181.42 670.93,181.79 677.06,181.99 683.18,182.09 689.31,182.14 695.44,182.17 701.57,182.19 707.69,182.19 713.82,182.2 719.95,182.2 726.07,182.2 732.2,182.2 738.33,182.2 744.46,182.2 750.58,182.2 756.71,182.2 762.84,182.2 768.96,182.2 775.09,182.2 781.22,182.2 787.35,182.2 793.47,182.2 799.6,182.2"/>
<path d="M438.1 182.2h.01M444.23 182.2h.01M450.35 182.2h.01M456.48 182.2h.01M462.61 182.2h.01M468.74 182.19h.01M474.86 182.18h.01M480.99 182.17h.01M487.12 182.14h.01M493.24 182.08h.01M499.37 181.97h.01M505.5 181.76h.01M511.63 181.37h.01M517.75 180.65h.01M523.88 179.35h.01M530.01 177.09h.01M536.13 173.29h.01M542.26 167.19h.01M548.39 157.9h.01M554.52 144.72h.01M560.64 127.55h.01M566.77 107.47h.01M572.9 87.09h.01M579.02 70.24h.01M585.15 60.87h.01M591.28 61.44h.01M597.41 71.79h.01M603.53 89.23h.01M609.66 109.75h.01M615.79 129.61h.01M621.91 146.37h.01M628.04 159.1h.01M634.17 168h.01M640.29 173.81h.01M646.42 177.41h.01M652.55 179.53h.01M658.68 180.75h.01M664.8 181.42h.01M670.93 181.79h.01M677.06 181.99h.01M683.18 182.09h.01M689.31 182.14h.01M695.44 182.17h.01M701.57 182.19h.01M707.69 182.19h.01M713.82 182.2h.01M719.95 182.2h.01M726.07 182.2h.01M732.2 182.2h.01M738.33 182.2h.01M744.46 182.2h.01M750.58 182.2h.01M756.71 182.2h.01M762.84 182.2h.01M768.96 182.2h.01M775.09 182.2h.01M781.22 182.2h.01M787.35 182.2h.01M793.47 182.2h.01M799.6 182.2h.01" stroke="#ff00ff" stroke-width="7.5" stroke-linecap="round" fill="none"/>
<polyline fill="none" stroke="#000000" stroke-width="0.9" points="438.1,182.2 444.23,182.2 450.35,182.2 456.48,182.2 462.61,182.2 468.74,182.2 474.86,182.2 480.99,182.2 487.12,182.2 493.24,182.2 499.37,182.2 505.5,182.2 511.63,182.2 517.75,182.2 523.88,182.2 530.01,182.2 536.13,182.2 542.26,182.2 548.39,182.2 554.52,182.2 560.64,182.2 566.77,182.2 572.9,182.2 579.02,182.2 585.15,182.2 591.28,182.2 597.41,182.2 603.53,182.2 609.66,182.2 615.79,182.2 621.91,182.2 628.04,182.2 634.17,182.2 640.29,182.2 646.42,182.2 652.55,182.2 658.68,182.2 664.8,182.2 670.93,182.2 677.06,182.2 683.18,182.2 689.31,182.2 695.44,182.2 701.57,182.2 707.69,182.2 713.82,182.2 719.95,182.2 726.07,182.2 732.2,182.2 738.33,182.2 744.46,182.2 750.58,182.2 756.71,182.2 762.84,182.2 768.96,182.2 775.09,182.2 781.22,182.2 787.35,182.2 793.47,182.2 799.6,182.2"/>
<path d="M438.1 182.2h.01M444.23 182.2h.01M450.35 182.2h.01M456.48 182.2h.01M462.61 182.2h.01M468.74 182.2h.01M474.86 182.2h.01M480.99 182.2h.01M487.12 182.2h.01M493.24 182.2h.01M499.37 182.2h.01M505.5 182.2h.01M511.63 182.2h.01M517.75 182.2h.01M523.88 182.2h.01M530.01 182.2h.01M536.13 182.2h.01M542.26 182.2h.01M548.39 182.2h.01M554.52 182.2h.01M560.64 182.2h.01M566.77 182.2h.01M572.9 182.2h.01M579.02 182.2h.01M585.15 182.2h.01M591.28 182.2h.01M597.41 182.2h.01M603.53 182.2h.01M609.66 182.2h.01M615.79 182.2h.01M621.91 182.2h.01M628.04 182.2h.01M634.17 182.2h.01M640.29 182.2h.01M646.42 182.2h.01M652.55 182.2h.01M658.68 182.2h.01M664.8 182.2h.01M670.93 182.2h.01M677.06 182.2h.01M683.18 182.2h.01M689.31 182.2h.01M695.44 182.2h.01M701.57 182.2h.01M707.69 182.2h.01M713.82 182.2h.01M719.95 182.2h.01M726.07 182.2h.01M732.2 182.2h.01M738.33 182.2h.01M744.46 182.2h.01M750.58 182.2h.01M756.71 182.2h.01M762.84 182.2h.01M768.96 182.2h.01M775.09 182.2h.01M781.22 182.2h.01M787.35 182.2h.01M793.47 182.2h.01M799.6 182.2h.01" stroke="#000000" stroke-width="7.5" stroke-linecap="round" fill="none"/>
<polyline fill="none" stroke="#ffa500" stroke-width="0.9" points="438.1,179.9 444.23,180.28 450.35,180.64 456.48,181 462.61,181.86 468.74,181.78 474.86,181.65 480.99,181.5 487.12,181.33 493.24,181.1 499.37,180.81 505.5,180.44 511.63,179.94 517.75,179.24 523.88,178.1 530.01,176.71 536.13,175.09 542.26,173.36 548.39,170.24 554.52,165.78 560.64,161.75 566.77,157.27 572.9,152.41 579.02,147.39 585.15,142.49 591.28,138.52 597.41,135.73 603.53,133.89 609.66,132.94 615.79,132.92 621.91,135.06 628.04,137.75 634.17,140.68 640.29,143.56 646.42,146.33 652.55,149 658.68,151.48 664.8,153.75 670.93,155.79 677.06,157.64 683.18,159.34 689.31,160.9 695.44,162.32 701.57,163.65 707.69,164.92 713.82,166.17 719.95,167.46 726.07,168.82 732.2,170.21 738.33,171.55 744.46,172.78 750.58,173.83 756.71,174.75 762.84,175.58 768.96,176.34 775.09,177.05 781.22,177.73 787.35,178.39 793.47,178.99 799.6,179.49"/>
<path d="M438.1 179.9h.01M444.23 180.28h.01M450.35 180.64h.01M456.48 181h.01M462.61 181.86h.01M468.74 181.78h.01M474.86 181.65h.01M480.99 181.5h.01M487.12 181.33h.01M493.24 181.1h.01M499.37 180.81h.01M505.5 180.44h.01M511.63 179.94h.01M517.75 179.24h.01M523.88 178.1h.01M530.01 176.71h.01M536.13 175.09h.01M542.26 173.36h.01M548.39 170.24h.01M554.52 165.78h.01M560.64 161.75h.01M566.77 157.27h.01M572.9 152.41h.01M579.02 147.39h.01M585.15 142.49h.01M591.28 138.52h.01M597.41 135.73h.01M603.53 133.89h.01M609.66 132.94h.01M615.79 132.92h.01M621.91 135.06h.01M628.04 137.75h.01M634.17 140.68h.01M640.29 143.56h.01M646.42 146.33h.01M652.55 149h.01M658.68 151.48h.01M664.8 153.75h.01M670.93 155.79h.01M677.06 157.64h.01M683.18 159.34h.01M689.31 160.9h.01M695.44 162.32h.01M701.57 163.65h.01M707.69 164.92h.01M713.82 166.17h.01M719.95 167.46h.01M726.07 168.82h.01M732.2 170.21h.01M738.33 171.55h.01M744.46 172.78h.01M750.58 173.83h.01M756.71 174.75h.01M762.84 175.58h.01M768.96 176.34h.01M775.09 177.05h.01M781.22 177.73h.01M787.35 178.39h.01M793.47 178.99h.01M799.6 179.49h.01" stroke="#ffa500" stroke-width="7.5" stroke-linecap="round" fill="none"/>
<polyline fill="none" stroke="#00ffff" stroke-width="0.9" points="438.1,182.2 444.23,182.2 450.35,182.2 456.48,182.2 462.61,182.2 468.74,182.2 474.86,182.2 480.99,182.2 487.12,182.2 493.24,182.2 499.37,182.2 505.5,182.2 511.63,182.2 517.75,182.2 523.88,182.2 530.01,182.2 536.13,182.2 542.26,182.2 548.39,182.2 554.52,182.2 560.64,182.2 566.77,182.2 572.9,182.2 579.02,182.2 585.15,182.2 591.28,182.2 597.41,182.2 603.53,182.2 609.66,182.2 615.79,182.2 621.91,182.2 628.04,182.2 634.17,182.2 640.29,182.2 646.42,182.2 652.55,182.2 658.68,182.2 664.8,182.2 670.93,182.2 677.06,182.2 683.18,182.2 689.31,182.2 695.44,182.2 701.57,182.2 707.69,182.2 713.82,182.2 719.95,182.2 726.07,182.2 732.2,182.2 738.33,182.2 744.46,182.2 750.58,182.2 756.71,182.2 762.84,182.2 768.96,182.2 775.09,182.2 781.22,182.2 787.35,182.2 793.47,182.2 799.6,182.2"/>
<path d="M438.1 182.2h.01M444.23 182.2h.01M450.35 182.2h.01M456.48 182.2h.01M462.61 182.2h.01M468.74 182.2h.01M474.86 182.2h.01M480.99 182.2h.01M487.12 182.2h.01M493.24 182.2h.01M499.37 182.2h.01M505.5 182.2h.01M511.63 182.2h.01M517.75 182.2h.01M523.88 182.2h.01M530.01 182.2h.01M536.13 182.2h.01M542.26 182.2h.01M548.39 182.2h.01M554.52 182.2h.01M560.64 182.2h.01M566.77 182.2h.01M572.9 182.2h.01M579.02 182.2h.01M585.15 182.2h.01M591.28 182.2h.01M597.41 182.2h.01M603.53 182.2h.01M609.66 182.2h.01M615.79 182.2h.01M621.91 182.2h.01M628.04 182.2h.01M634.17 182.2h.01M640.29 182.2h.01M646.42 182.2h.01M652.55 182.2h.01M658.68 182.2h.01M664.8 182.2h.01M670.93 182.2h.01M677.06 182.2h.01M683.18 182.2h.01M689.31 182.2h.01M695.44 182.2h.01M701.57 182.2h.01M707.69 182.2h.01M713.82 182.2h.01M719.95 182.2h.01M726.07 182.2h.01M732.2 182.2h.01M738.33 182.2h.01M744.46 182.2h.01M750.58 182.2h.01M756.71 182.2h.01M762.84 182.2h.01M768.96 182.2h.01M775.09 182.2h.01M781.22 182.2h.01M787.35 182.2h.01M793.47 182.2h.01M799.6 182.2h.01" stroke="#00ffff" stroke-width="7.5" stroke-linecap="round" fill="none"/>
<polyline fill="none" stroke="#ff0000" stroke-width="0.9" points="438.1,146.37 444.23,159.1 450.35,168 456.48,173.81 462.61,177.41 468.74,179.53 474.86,180.75 480.99,181.42 487.12,181.79 493.24,181.99 499.37,182.09 505.5,182.14 511.63,182.17 517.75,182.19 523.88,182.19 530.01,182.2 536.13,182.2 542.26,182.2 548.39,182.2 554.52,182.2 560.64,182.2 566.77,182.2 572.9,182.2 579.02,182.2 585.15,182.2 591.28,182.2 597.41,182.2 603.53,182.2 609.66,182.2 615.79,182.2 621.91,182.2 628.04,182.2 634.17,182.2 640.29,182.2 646.42,182.2 652.55,182.19 658.68,182.18 664.8,182.17 670.93,182.14 677.06,182.08 683.18,181.97 689.31,181.76 695.44,181.37 701.57,180.65 707.69,179.35 713.82,177.09 719.95,173.29 726.07,167.19 732.2,157.9 738.33,144.72 744.46,127.55 750.58,107.47 756.71,87.09 762.84,70.24 768.96,60.87 775.09,61.44 781.22,71.79 787.35,89.23 793.47,109.75 799.6,129.61"/>
<rect x="438.1" y="22.2" width="361.5" height="160" fill="none" stroke="#000" stroke-width="1.5"/>
<path d="M434.2 142.47l7.8 7.8M434.2 150.27l7.8 -7.8M440.33 155.2l7.8 7.8M440.33 163l7.8 -7.8M446.45 164.1l7.8 7.8M446.45 171.9l7.8 -7.8M452.58 169.91l7.8 7.8M452.58 177.71l7.8 -7.8M458.71 173.51l7.8 7.8M458.71 181.31l7.8 -7.8M464.84 175.63l7.8 7.8M464.84 183.43l7.8 -7.8M470.96 176.85l7.8 7.8M470.96 184.65l7.8 -7.8M477.09 177.52l7.8 7.8M477.09 185.32l7.8 -7.8M483.22 177.89l7.8 7.8M483.22 185.69l7.8 -7.8M489.34 178.09l7.8 7.8M489.34 185.89l7.8 -7.8M495.47 178.19l7.8 7.8M495.47 185.99l7.8 -7.8M501.6 178.24l7.8 7.8M501.6 186.04l7.8 -7.8M507.73 178.27l7.8 7.8M507.73 186.07l7.8 -7.8M513.85 178.29l7.8 7.8M513.85 186.09l7.8 -7.8M519.98 178.29l7.8 7.8M519.98 186.09l7.8 -7.8M526.11 178.3l7.8 7.8M526.11 186.1l7.8 -7.8M532.23 178.3l7.8 7.8M532.23 186.1l7.8 -7.8M538.36 178.3l7.8 7.8M538.36 186.1l7.8 -7.8M544.49 178.3l7.8 7.8M544.49 186.1l7.8 -7.8M550.62 178.3l7.8 7.8M550.62 186.1l7.8 -7.8M556.74 178.3l7.8 7.8M556.74 186.1l7.8 -7.8M562.87 178.3l7.8 7.8M562.87 186.1l7.8 -7.8M569 178.3l7.8 7.8M569 186.1l7.8 -7.8M575.12 178.3l7.8 7.8M575.12 186.1l7.8 -7.8M581.25 178.3l7.8 7.8M581.25 186.1l7.8 -7.8M587.38 178.3l7.8 7.8M587.38 186.1l7.8 -7.8M593.51 178.3l7.8 7.8M593.51 186.1l7.8 -7.8M599.63 178.3l7.8 7.8M599.63 186.1l7.8 -7.8M605.76 178.3l7.8 7.8M605.76 186.1l7.8 -7.8M611.89 178.3l7.8 7.8M611.89 186.1l7.8 -7.8M618.01 178.3l7.8 7.8M618.01 186.1l7.8 -7.8M624.14 178.3l7.8 7.8M624.14 186.1l7.8 -7.8M630.27 178.3l7.8 7.8M630.27 186.1l7.8 -7.8M636.39 178.3l7.8 7.8M636.39 186.1l7.8 -7.8M642.52 178.3l7.8 7.8M642.52 186.1l7.8 -7.8M648.65 178.29l7.8 7.8M648.65 186.09l7.8 -7.8M654.78 178.28l7.8 7.8M654.78 186.08l7.8 -7.8M660.9 178.27l7.8 7.8M660.9 186.07l7.8 -7.8M667.03 178.24l7.8 7.8M667.03 186.04l7.8 -7.8M673.16 178.18l7.8 7.8M673.16 185.98l7.8 -7.8M679.28 178.07l7.8 7.8M679.28 185.87l7.8 -7.8M685.41 177.86l7.8 7.8M685.41 185.66l7.8 -7.8M691.54 177.47l7.8 7.8M691.54 185.27l7.8 -7.8M697.67 176.75l7.8 7.8M697.67 184.55l7.8 -7.8M703.79 175.45l7.8 7.8M703.79 183.25l7.8 -7.8M709.92 173.19l7.8 7.8M709.92 180.99l7.8 -7.8M716.05 169.39l7.8 7.8M716.05 177.19l7.8 -7.8M722.17 163.29l7.8 7.8M722.17 171.09l7.8 -7.8M728.3 154l7.8 7.8M728.3 161.8l7.8 -7.8M734.43 140.82l7.8 7.8M734.43 148.62l7.8 -7.8M740.56 123.65l7.8 7.8M740.56 131.45l7.8 -7.8M746.68 103.57l7.8 7.8M746.68 111.37l7.8 -7.8M752.81 83.19l7.8 7.8M752.81 90.99l7.8 -7.8M758.94 66.34l7.8 7.8M758.94 74.14l7.8 -7.8M765.06 56.97l7.8 7.8M765.06 64.77l7.8 -7.8M771.19 57.54l7.8 7.8M771.19 65.34l7.8 -7.8M777.32 67.89l7.8 7.8M777.32 75.69l7.8 -7.8M783.45 85.33l7.8 7.8M783.45 93.13l7.8 -7.8M789.57 105.85l7.8 7.8M789.57 113.65l7.8 -7.8M795.7 125.71l7.8 7.8M795.7 133.51l7.8 -7.8" stroke="#ff0000" stroke-width="0.9" fill="none"/>
<text transform="translate(423.3 190.55) scale(0.96 1)" text-anchor="end" font-size="25">0</text>
<text transform="translate(423.3 150.55) scale(0.96 1)" text-anchor="end" font-size="25">1</text>
<text transform="translate(423.3 110.55) scale(0.96 1)" text-anchor="end" font-size="25">2</text>
<text transform="translate(423.3 70.55) scale(0.96 1)" text-anchor="end" font-size="25">3</text>
<text transform="translate(423.3 30.55) scale(0.96 1)" text-anchor="end" font-size="25">4</text>
<text transform="translate(448.8 45.8) scale(0.96 1)" text-anchor="start" font-size="25">(b)</text>
<text transform="translate(391.8 124.2) rotate(-90) scale(0.96 1)" text-anchor="start" font-size="25">n(i<tspan font-size="20" dy="7.2">1</tspan><tspan font-size="25" dy="-7.2">)</tspan></text>
<path d="M440 220.4H800" stroke="#6e6e6e" stroke-width="1.2"/>
<path d="M440 248.7H800" stroke="#8c8c8c" stroke-width="1.5"/>
<path d="M440.3 220.4V207.3M446.39 220.4V207.3M452.48 220.4V207.3M458.57 220.4V207.3M464.66 220.4V207.3M470.75 220.4V207.3M476.84 220.4V207.3M482.93 220.4V207.3M489.02 220.4V207.3M495.11 220.4V207.3M501.2 220.4V207.3M507.29 220.4V207.3M513.38 220.4V207.3M519.47 220.4V207.3M525.56 220.4V207.3M531.65 220.4V207.3M537.74 220.4V207.3M543.83 220.4V207.3M549.92 220.4V207.3M556.01 220.4V207.3M562.1 220.4V207.95M562.1 248.7V245.62M568.19 220.4V209.84M568.19 248.7V242.51M574.28 220.4V212.82M574.28 248.7V239.51M580.37 220.4V215.72M580.37 248.7V237.05M586.46 220.4V218.99M586.46 248.7V235.76M592.55 220.4V221.81M592.55 248.7V235.76M598.64 220.4V225.08M598.64 248.7V237.05M604.73 220.4V227.98M604.73 248.7V239.51M610.82 220.4V230.96M610.82 248.7V242.51M616.91 220.4V232.85M616.91 248.7V245.62M622.99 220.4V233.5M629.08 220.4V233.5M635.17 220.4V233.5M641.26 220.4V233.5M647.35 220.4V233.5M653.44 220.4V233.5M659.53 220.4V233.5M665.62 220.4V233.5M671.71 220.4V233.5M677.8 220.4V233.5M683.89 220.4V233.5M689.98 220.4V233.5M696.07 220.4V233.5M702.16 220.4V233.5M708.25 220.4V233.5M714.34 220.4V233.5M720.43 220.4V233.5M726.52 220.4V233.5M732.61 220.4V233.5M738.7 220.4V233.5M744.79 220.4V232.85M744.79 248.7V251.78M750.88 220.4V230.96M750.88 248.7V254.89M756.97 220.4V227.98M756.97 248.7V257.89M763.06 220.4V225.08M763.06 248.7V260.35M769.15 220.4V221.81M769.15 248.7V261.64M775.24 220.4V218.99M775.24 248.7V261.64M781.33 220.4V215.72M781.33 248.7V260.35M787.42 220.4V212.82M787.42 248.7V257.89M793.51 220.4V209.84M793.51 248.7V254.89M799.6 220.4V207.95M799.6 248.7V251.78" stroke="#ff0000" stroke-width="0.8" fill="none"/><path d="M440.3 204.4L437 210.2L440.3 208.58L443.6 210.2ZM446.39 204.4L443.09 210.2L446.39 208.58L449.69 210.2ZM452.48 204.4L449.18 210.2L452.48 208.58L455.78 210.2ZM458.57 204.4L455.27 210.2L458.57 208.58L461.87 210.2ZM464.66 204.4L461.36 210.2L464.66 208.58L467.96 210.2ZM470.75 204.4L467.45 210.2L470.75 208.58L474.05 210.2ZM476.84 204.4L473.54 210.2L476.84 208.58L480.14 210.2ZM482.93 204.4L479.63 210.2L482.93 208.58L486.23 210.2ZM489.02 204.4L485.72 210.2L489.02 208.58L492.32 210.2ZM495.11 204.4L491.81 210.2L495.11 208.58L498.41 210.2ZM501.2 204.4L497.9 210.2L501.2 208.58L504.5 210.2ZM507.29 204.4L503.99 210.2L507.29 208.58L510.59 210.2ZM513.38 204.4L510.08 210.2L513.38 208.58L516.68 210.2ZM519.47 204.4L516.17 210.2L519.47 208.58L522.77 210.2ZM525.56 204.4L522.26 210.2L525.56 208.58L528.86 210.2ZM531.65 204.4L528.35 210.2L531.65 208.58L534.95 210.2ZM537.74 204.4L534.44 210.2L537.74 208.58L541.04 210.2ZM543.83 204.4L540.53 210.2L543.83 208.58L547.13 210.2ZM549.92 204.4L546.62 210.2L549.92 208.58L553.22 210.2ZM556.01 204.4L552.71 210.2L556.01 208.58L559.31 210.2ZM562.1 205.05L558.8 210.85L562.1 209.22L565.4 210.85ZM562.1 244.19L560.47 247.05L562.1 246.25L563.72 247.05ZM568.19 206.94L564.89 212.74L568.19 211.12L571.49 212.74ZM568.19 240.05L565.38 244.97L568.19 243.6L570.99 244.97ZM574.28 209.92L570.98 215.72L574.28 214.1L577.58 215.72ZM574.28 236.61L570.98 242.41L574.28 240.78L577.58 242.41ZM580.37 213.75L578.13 217.68L580.37 216.58L582.6 217.68ZM580.37 234.15L577.07 239.95L580.37 238.32L583.67 239.95ZM586.46 218.12L585.47 219.86L586.46 219.37L587.45 219.86ZM586.46 232.86L583.16 238.66L586.46 237.04L589.76 238.66ZM592.55 222.68L591.56 220.94L592.55 221.43L593.53 220.94ZM592.55 232.86L589.25 238.66L592.55 237.04L595.85 238.66ZM598.64 227.05L596.4 223.12L598.64 224.22L600.87 223.12ZM598.64 234.15L595.34 239.95L598.64 238.32L601.94 239.95ZM604.73 230.88L601.43 225.08L604.73 226.7L608.03 225.08ZM604.73 236.61L601.43 242.41L604.73 240.78L608.03 242.41ZM610.82 233.86L607.52 228.06L610.82 229.68L614.12 228.06ZM610.82 240.05L608.01 244.97L610.82 243.6L613.62 244.97ZM616.91 235.75L613.61 229.95L616.91 231.58L620.21 229.95ZM616.91 244.19L615.28 247.05L616.91 246.25L618.53 247.05ZM622.99 236.4L619.69 230.6L622.99 232.22L626.29 230.6ZM629.08 236.4L625.78 230.6L629.08 232.22L632.38 230.6ZM635.17 236.4L631.87 230.6L635.17 232.22L638.47 230.6ZM641.26 236.4L637.96 230.6L641.26 232.22L644.56 230.6ZM647.35 236.4L644.05 230.6L647.35 232.22L650.65 230.6ZM653.44 236.4L650.14 230.6L653.44 232.22L656.74 230.6ZM659.53 236.4L656.23 230.6L659.53 232.22L662.83 230.6ZM665.62 236.4L662.32 230.6L665.62 232.22L668.92 230.6ZM671.71 236.4L668.41 230.6L671.71 232.22L675.01 230.6ZM677.8 236.4L674.5 230.6L677.8 232.22L681.1 230.6ZM683.89 236.4L680.59 230.6L683.89 232.22L687.19 230.6ZM689.98 236.4L686.68 230.6L689.98 232.22L693.28 230.6ZM696.07 236.4L692.77 230.6L696.07 232.22L699.37 230.6ZM702.16 236.4L698.86 230.6L702.16 232.22L705.46 230.6ZM708.25 236.4L704.95 230.6L708.25 232.22L711.55 230.6ZM714.34 236.4L711.04 230.6L714.34 232.22L717.64 230.6ZM720.43 236.4L717.13 230.6L720.43 232.22L723.73 230.6ZM726.52 236.4L723.22 230.6L726.52 232.22L729.82 230.6ZM732.61 236.4L729.31 230.6L732.61 232.22L735.91 230.6ZM738.7 236.4L735.4 230.6L738.7 232.22L742 230.6ZM744.79 235.75L741.49 229.95L744.79 231.58L748.09 229.95ZM744.79 253.21L743.17 250.35L744.79 251.15L746.42 250.35ZM750.88 233.86L747.58 228.06L750.88 229.68L754.18 228.06ZM750.88 257.35L748.08 252.43L750.88 253.8L753.68 252.43ZM756.97 230.88L753.67 225.08L756.97 226.7L760.27 225.08ZM756.97 260.79L753.67 254.99L756.97 256.62L760.27 254.99ZM763.06 227.05L760.83 223.12L763.06 224.22L765.29 223.12ZM763.06 263.25L759.76 257.45L763.06 259.08L766.36 257.45ZM769.15 222.68L768.16 220.94L769.15 221.43L770.14 220.94ZM769.15 264.54L765.85 258.74L769.15 260.36L772.45 258.74ZM775.24 218.12L774.25 219.86L775.24 219.37L776.23 219.86ZM775.24 264.54L771.94 258.74L775.24 260.36L778.54 258.74ZM781.33 213.75L779.1 217.68L781.33 216.58L783.56 217.68ZM781.33 263.25L778.03 257.45L781.33 259.08L784.63 257.45ZM787.42 209.92L784.12 215.72L787.42 214.1L790.72 215.72ZM787.42 260.79L784.12 254.99L787.42 256.62L790.72 254.99ZM793.51 206.94L790.21 212.74L793.51 211.12L796.81 212.74ZM793.51 257.35L790.71 252.43L793.51 253.8L796.31 252.43ZM799.6 205.05L796.3 210.85L799.6 209.22L802.9 210.85ZM799.6 253.21L797.98 250.35L799.6 251.15L801.22 250.35Z" fill="#ff0000" stroke="#ff0000" stroke-width="0.4" stroke-linejoin="miter"/>
<text transform="translate(419.4 218.9) scale(0.96 1)" text-anchor="start" font-size="25">b<tspan font-size="20" dy="7.6">z</tspan></text>
<text transform="translate(419.4 248.1) scale(0.96 1)" text-anchor="start" font-size="25">b<tspan font-size="20" dy="7.4">x</tspan></text>
</g>
<g id="pc">
<path d="M438.1 432.3h7 M799.6 432.3h-7M438.1 394.45h7 M799.6 394.45h-7M438.1 356.6h7 M799.6 356.6h-7M438.1 318.75h7 M799.6 318.75h-7M438.1 280.9h7 M799.6 280.9h-7M493.24 432.3v-7 M493.24 280.9v7M554.52 432.3v-7 M554.52 280.9v7M615.79 432.3v-7 M615.79 280.9v7M677.06 432.3v-7 M677.06 280.9v7M738.33 432.3v-7 M738.33 280.9v7M799.6 432.3v-7 M799.6 280.9v7" stroke="#000" stroke-width="1" fill="none"/>
<polyline fill="none" stroke="#ff0000" stroke-width="0.9" points="438.1,421.73 444.23,420.43 450.35,419.12 456.48,417.86 462.61,416.66 468.74,415.47 474.86,414.25 480.99,412.97 487.12,411.57 493.24,410.04 499.37,408.37 505.5,406.57 511.63,404.54 517.75,402.32 523.88,399.89 530.01,397.31 536.13,394.67 542.26,391.89 548.39,389.2 554.52,386.82 560.64,385.56 566.77,385.86 572.9,387.19 579.02,389.25 585.15,392.31 591.28,396.48 597.41,401.27 603.53,405.97 609.66,410.45 615.79,414.53 621.91,418.38 628.04,422.33 634.17,424.71 640.29,426.17 646.42,427.64 652.55,428.9 658.68,429.79 664.8,430.37 670.93,430.79 677.06,431.1 683.18,431.35 689.31,431.54 695.44,431.7 701.57,431.83 707.69,431.94 713.82,432 719.95,431.03 726.07,430.69 732.2,430.34 738.33,429.98 744.46,429.56 750.58,429.04 756.71,428.45 762.84,427.82 768.96,427.16 775.09,426.47 781.22,425.73 787.35,424.91 793.47,424.01 799.6,422.94"/>
<path d="M438.1 421.73h.01M444.23 420.43h.01M450.35 419.12h.01M456.48 417.86h.01M462.61 416.66h.01M468.74 415.47h.01M474.86 414.25h.01M480.99 412.97h.01M487.12 411.57h.01M493.24 410.04h.01M499.37 408.37h.01M505.5 406.57h.01M511.63 404.54h.01M517.75 402.32h.01M523.88 399.89h.01M530.01 397.31h.01M536.13 394.67h.01M542.26 391.89h.01M548.39 389.2h.01M554.52 386.82h.01M560.64 385.56h.01M566.77 385.86h.01M572.9 387.19h.01M579.02 389.25h.01M585.15 392.31h.01M591.28 396.48h.01M597.41 401.27h.01M603.53 405.97h.01M609.66 410.45h.01M615.79 414.53h.01M621.91 418.38h.01M628.04 422.33h.01M634.17 424.71h.01M640.29 426.17h.01M646.42 427.64h.01M652.55 428.9h.01M658.68 429.79h.01M664.8 430.37h.01M670.93 430.79h.01M677.06 431.1h.01M683.18 431.35h.01M689.31 431.54h.01M695.44 431.7h.01M701.57 431.83h.01M707.69 431.94h.01M713.82 432h.01M719.95 431.03h.01M726.07 430.69h.01M732.2 430.34h.01M738.33 429.98h.01M744.46 429.56h.01M750.58 429.04h.01M756.71 428.45h.01M762.84 427.82h.01M768.96 427.16h.01M775.09 426.47h.01M781.22 425.73h.01M787.35 424.91h.01M793.47 424.01h.01M799.6 422.94h.01" stroke="#ff0000" stroke-width="7.5" stroke-linecap="round" fill="none"/>
<polyline fill="none" stroke="#0000ff" stroke-width="0.9" points="438.1,432.3 444.23,432.3 450.35,432.3 456.48,432.3 462.61,432.3 468.74,432.3 474.86,432.3 480.99,432.3 487.12,432.3 493.24,432.3 499.37,432.3 505.5,432.3 511.63,432.3 517.75,432.3 523.88,432.3 530.01,432.3 536.13,432.3 542.26,432.3 548.39,432.3 554.52,432.3 560.64,432.3 566.77,432.3 572.9,432.3 579.02,432.3 585.15,432.3 591.28,432.3 597.41,432.3 603.53,432.3 609.66,432.3 615.79,432.3 621.91,432.3 628.04,432.3 634.17,432.3 640.29,432.3 646.42,432.3 652.55,432.3 658.68,432.3 664.8,432.3 670.93,432.3 677.06,432.3 683.18,432.3 689.31,432.3 695.44,432.3 701.57,432.3 707.69,432.3 713.82,432.3 719.95,432.3 726.07,432.3 732.2,432.3 738.33,432.3 744.46,432.3 750.58,432.3 756.71,432.3 762.84,432.3 768.96,432.3 775.09,432.3 781.22,432.3 787.35,432.3 793.47,432.3 799.6,432.3"/>
<path d="M438.1 432.3h.01M444.23 432.3h.01M450.35 432.3h.01M456.48 432.3h.01M462.61 432.3h.01M468.74 432.3h.01M474.86 432.3h.01M480.99 432.3h.01M487.12 432.3h.01M493.24 432.3h.01M499.37 432.3h.01M505.5 432.3h.01M511.63 432.3h.01M517.75 432.3h.01M523.88 432.3h.01M530.01 432.3h.01M536.13 432.3h.01M542.26 432.3h.01M548.39 432.3h.01M554.52 432.3h.01M560.64 432.3h.01M566.77 432.3h.01M572.9 432.3h.01M579.02 432.3h.01M585.15 432.3h.01M591.28 432.3h.01M597.41 432.3h.01M603.53 432.3h.01M609.66 432.3h.01M615.79 432.3h.01M621.91 432.3h.01M628.04 432.3h.01M634.17 432.3h.01M640.29 432.3h.01M646.42 432.3h.01M652.55 432.3h.01M658.68 432.3h.01M664.8 432.3h.01M670.93 432.3h.01M677.06 432.3h.01M683.18 432.3h.01M689.31 432.3h.01M695.44 432.3h.01M701.57 432.3h.01M707.69 432.3h.01M713.82 432.3h.01M719.95 432.3h.01M726.07 432.3h.01M732.2 432.3h.01M738.33 432.3h.01M744.46 432.3h.01M750.58 432.3h.01M756.71 432.3h.01M762.84 432.3h.01M768.96 432.3h.01M775.09 432.3h.01M781.22 432.3h.01M787.35 432.3h.01M793.47 432.3h.01M799.6 432.3h.01" stroke="#0000ff" stroke-width="7.5" stroke-linecap="round" fill="none"/>
<polyline fill="none" stroke="#00ff00" stroke-width="0.9" points="438.1,401.84 444.23,412.72 450.35,420.2 456.48,425.06 462.61,428.07 468.74,429.88 474.86,430.94 480.99,431.54 487.12,431.88 493.24,432.07 499.37,432.17 505.5,432.23 511.63,432.26 517.75,432.28 523.88,432.29 530.01,432.29 536.13,432.3 542.26,432.3 548.39,432.3 554.52,432.3 560.64,432.3 566.77,432.3 572.9,432.3 579.02,432.3 585.15,432.3 591.28,432.3 597.41,432.3 603.53,432.3 609.66,432.3 615.79,432.3 621.91,432.3 628.04,432.3 634.17,432.3 640.29,432.3 646.42,432.29 652.55,432.28 658.68,432.27 664.8,432.25 670.93,432.2 677.06,432.12 683.18,431.98 689.31,431.71 695.44,431.24 701.57,430.42 707.69,428.98 713.82,426.57 719.95,422.61 726.07,416.39 732.2,407.09 738.33,394.08 744.46,377.38 750.58,358.19 756.71,339.22 762.84,324.35 768.96,317.33 775.09,320.12 781.22,331.93 787.35,349.6 793.47,369.12 799.6,387.15"/>
<path d="M438.1 401.84h.01M444.23 412.72h.01M450.35 420.2h.01M456.48 425.06h.01M462.61 428.07h.01M468.74 429.88h.01M474.86 430.94h.01M480.99 431.54h.01M487.12 431.88h.01M493.24 432.07h.01M499.37 432.17h.01M505.5 432.23h.01M511.63 432.26h.01M517.75 432.28h.01M523.88 432.29h.01M530.01 432.29h.01M536.13 432.3h.01M542.26 432.3h.01M548.39 432.3h.01M554.52 432.3h.01M560.64 432.3h.01M566.77 432.3h.01M572.9 432.3h.01M579.02 432.3h.01M585.15 432.3h.01M591.28 432.3h.01M597.41 432.3h.01M603.53 432.3h.01M609.66 432.3h.01M615.79 432.3h.01M621.91 432.3h.01M628.04 432.3h.01M634.17 432.3h.01M640.29 432.3h.01M646.42 432.29h.01M652.55 432.28h.01M658.68 432.27h.01M664.8 432.25h.01M670.93 432.2h.01M677.06 432.12h.01M683.18 431.98h.01M689.31 431.71h.01M695.44 431.24h.01M701.57 430.42h.01M707.69 428.98h.01M713.82 426.57h.01M719.95 422.61h.01M726.07 416.39h.01M732.2 407.09h.01M738.33 394.08h.01M744.46 377.38h.01M750.58 358.19h.01M756.71 339.22h.01M762.84 324.35h.01M768.96 317.33h.01M775.09 320.12h.01M781.22 331.93h.01M787.35 349.6h.01M793.47 369.12h.01M799.6 387.15h.01" stroke="#00ff00" stroke-width="7.5" stroke-linecap="round" fill="none"/>
<polyline fill="none" stroke="#ff00ff" stroke-width="0.9" points="438.1,432.3 444.23,432.3 450.35,432.3 456.48,432.3 462.61,432.3 468.74,432.3 474.86,432.3 480.99,432.3 487.12,432.3 493.24,432.3 499.37,432.3 505.5,432.3 511.63,432.3 517.75,432.3 523.88,432.3 530.01,432.3 536.13,432.3 542.26,432.3 548.39,432.3 554.52,432.3 560.64,432.3 566.77,432.3 572.9,432.3 579.02,432.3 585.15,432.3 591.28,432.3 597.41,432.3 603.53,432.3 609.66,432.3 615.79,432.3 621.91,432.3 628.04,432.3 634.17,432.3 640.29,432.3 646.42,432.3 652.55,432.3 658.68,432.3 664.8,432.3 670.93,432.3 677.06,432.3 683.18,432.3 689.31,432.3 695.44,432.3 701.57,432.3 707.69,432.3 713.82,432.3 719.95,432.3 726.07,432.3 732.2,432.3 738.33,432.3 744.46,432.3 750.58,432.3 756.71,432.3 762.84,432.3 768.96,432.3 775.09,432.3 781.22,432.3 787.35,432.3 793.47,432.3 799.6,432.3"/>
<path d="M438.1 432.3h.01M444.23 432.3h.01M450.35 432.3h.01M456.48 432.3h.01M462.61 432.3h.01M468.74 432.3h.01M474.86 432.3h.01M480.99 432.3h.01M487.12 432.3h.01M493.24 432.3h.01M499.37 432.3h.01M505.5 432.3h.01M511.63 432.3h.01M517.75 432.3h.01M523.88 432.3h.01M530.01 432.3h.01M536.13 432.3h.01M542.26 432.3h.01M548.39 432.3h.01M554.52 432.3h.01M560.64 432.3h.01M566.77 432.3h.01M572.9 432.3h.01M579.02 432.3h.01M585.15 432.3h.01M591.28 432.3h.01M597.41 432.3h.01M603.53 432.3h.01M609.66 432.3h.01M615.79 432.3h.01M621.91 432.3h.01M628.04 432.3h.01M634.17 432.3h.01M640.29 432.3h.01M646.42 432.3h.01M652.55 432.3h.01M658.68 432.3h.01M664.8 432.3h.01M670.93 432.3h.01M677.06 432.3h.01M683.18 432.3h.01M689.31 432.3h.01M695.44 432.3h.01M701.57 432.3h.01M707.69 432.3h.01M713.82 432.3h.01M719.95 432.3h.01M726.07 432.3h.01M732.2 432.3h.01M738.33 432.3h.01M744.46 432.3h.01M750.58 432.3h.01M756.71 432.3h.01M762.84 432.3h.01M768.96 432.3h.01M775.09 432.3h.01M781.22 432.3h.01M787.35 432.3h.01M793.47 432.3h.01M799.6 432.3h.01" stroke="#ff00ff" stroke-width="7.5" stroke-linecap="round" fill="none"/>
<polyline fill="none" stroke="#000000" stroke-width="0.9" points="438.1,419.26 444.23,422.92 450.35,425.02 456.48,426.49 462.61,427.91 468.74,429.12 474.86,429.92 480.99,430.47 487.12,430.85 493.24,431.16 499.37,431.4 505.5,431.57 511.63,431.73 517.75,431.86 523.88,431.95 530.01,431.29 536.13,430.96 542.26,430.62 548.39,430.27 554.52,429.9 560.64,429.46 566.77,428.93 572.9,428.33 579.02,427.69 585.15,427.03 591.28,426.33 597.41,425.57 603.53,424.74 609.66,423.81 615.79,422.71 621.91,421.47 628.04,420.17 634.17,418.86 640.29,417.62 646.42,416.42 652.55,415.23 658.68,414 664.8,412.7 670.93,411.28 677.06,409.72 683.18,408.02 689.31,406.18 695.44,404.11 701.57,401.85 707.69,399.39 713.82,396.79 719.95,394.13 726.07,391.33 732.2,388.67 738.33,386.37 744.46,385.59 750.58,386.05 756.71,387.53 762.84,389.78 768.96,393.07 775.09,397.42 781.22,402.22 787.35,406.9 793.47,411.3 799.6,415.28"/>
<path d="M438.1 419.26h.01M444.23 422.92h.01M450.35 425.02h.01M456.48 426.49h.01M462.61 427.91h.01M468.74 429.12h.01M474.86 429.92h.01M480.99 430.47h.01M487.12 430.85h.01M493.24 431.16h.01M499.37 431.4h.01M505.5 431.57h.01M511.63 431.73h.01M517.75 431.86h.01M523.88 431.95h.01M530.01 431.29h.01M536.13 430.96h.01M542.26 430.62h.01M548.39 430.27h.01M554.52 429.9h.01M560.64 429.46h.01M566.77 428.93h.01M572.9 428.33h.01M579.02 427.69h.01M585.15 427.03h.01M591.28 426.33h.01M597.41 425.57h.01M603.53 424.74h.01M609.66 423.81h.01M615.79 422.71h.01M621.91 421.47h.01M628.04 420.17h.01M634.17 418.86h.01M640.29 417.62h.01M646.42 416.42h.01M652.55 415.23h.01M658.68 414h.01M664.8 412.7h.01M670.93 411.28h.01M677.06 409.72h.01M683.18 408.02h.01M689.31 406.18h.01M695.44 404.11h.01M701.57 401.85h.01M707.69 399.39h.01M713.82 396.79h.01M719.95 394.13h.01M726.07 391.33h.01M732.2 388.67h.01M738.33 386.37h.01M744.46 385.59h.01M750.58 386.05h.01M756.71 387.53h.01M762.84 389.78h.01M768.96 393.07h.01M775.09 397.42h.01M781.22 402.22h.01M787.35 406.9h.01M793.47 411.3h.01M799.6 415.28h.01" stroke="#000000" stroke-width="7.5" stroke-linecap="round" fill="none"/>
<polyline fill="none" stroke="#ffa500" stroke-width="0.9" points="438.1,432.3 444.23,432.3 450.35,432.3 456.48,432.3 462.61,432.3 468.74,432.3 474.86,432.3 480.99,432.3 487.12,432.3 493.24,432.3 499.37,432.3 505.5,432.3 511.63,432.3 517.75,432.3 523.88,432.3 530.01,432.3 536.13,432.3 542.26,432.3 548.39,432.3 554.52,432.3 560.64,432.3 566.77,432.3 572.9,432.3 579.02,432.3 585.15,432.3 591.28,432.3 597.41,432.3 603.53,432.3 609.66,432.3 615.79,432.3 621.91,432.3 628.04,432.3 634.17,432.3 640.29,432.3 646.42,432.3 652.55,432.3 658.68,432.3 664.8,432.3 670.93,432.3 677.06,432.3 683.18,432.3 689.31,432.3 695.44,432.3 701.57,432.3 707.69,432.3 713.82,432.3 719.95,432.3 726.07,432.3 732.2,432.3 738.33,432.3 744.46,432.3 750.58,432.3 756.71,432.3 762.84,432.3 768.96,432.3 775.09,432.3 781.22,432.3 787.35,432.3 793.47,432.3 799.6,432.3"/>
<path d="M438.1 432.3h.01M444.23 432.3h.01M450.35 432.3h.01M456.48 432.3h.01M462.61 432.3h.01M468.74 432.3h.01M474.86 432.3h.01M480.99 432.3h.01M487.12 432.3h.01M493.24 432.3h.01M499.37 432.3h.01M505.5 432.3h.01M511.63 432.3h.01M517.75 432.3h.01M523.88 432.3h.01M530.01 432.3h.01M536.13 432.3h.01M542.26 432.3h.01M548.39 432.3h.01M554.52 432.3h.01M560.64 432.3h.01M566.77 432.3h.01M572.9 432.3h.01M579.02 432.3h.01M585.15 432.3h.01M591.28 432.3h.01M597.41 432.3h.01M603.53 432.3h.01M609.66 432.3h.01M615.79 432.3h.01M621.91 432.3h.01M628.04 432.3h.01M634.17 432.3h.01M640.29 432.3h.01M646.42 432.3h.01M652.55 432.3h.01M658.68 432.3h.01M664.8 432.3h.01M670.93 432.3h.01M677.06 432.3h.01M683.18 432.3h.01M689.31 432.3h.01M695.44 432.3h.01M701.57 432.3h.01M707.69 432.3h.01M713.82 432.3h.01M719.95 432.3h.01M726.07 432.3h.01M732.2 432.3h.01M738.33 432.3h.01M744.46 432.3h.01M750.58 432.3h.01M756.71 432.3h.01M762.84 432.3h.01M768.96 432.3h.01M775.09 432.3h.01M781.22 432.3h.01M787.35 432.3h.01M793.47 432.3h.01M799.6 432.3h.01" stroke="#ffa500" stroke-width="7.5" stroke-linecap="round" fill="none"/>
<polyline fill="none" stroke="#00ffff" stroke-width="0.9" points="438.1,432.3 444.23,432.3 450.35,432.3 456.48,432.3 462.61,432.29 468.74,432.28 474.86,432.27 480.99,432.25 487.12,432.2 493.24,432.12 499.37,431.98 505.5,431.71 511.63,431.24 517.75,430.42 523.88,428.98 530.01,426.57 536.13,422.61 542.26,416.39 548.39,407.09 554.52,394.08 560.64,377.38 566.77,358.19 572.9,339.22 579.02,324.35 585.15,317.33 591.28,320.12 597.41,331.93 603.53,349.6 609.66,369.12 615.79,387.15 621.91,401.84 628.04,412.72 634.17,420.2 640.29,425.06 646.42,428.07 652.55,429.88 658.68,430.94 664.8,431.54 670.93,431.88 677.06,432.07 683.18,432.17 689.31,432.23 695.44,432.26 701.57,432.28 707.69,432.29 713.82,432.29 719.95,432.3 726.07,432.3 732.2,432.3 738.33,432.3 744.46,432.3 750.58,432.3 756.71,432.3 762.84,432.3 768.96,432.3 775.09,432.3 781.22,432.3 787.35,432.3 793.47,432.3 799.6,432.3"/>
<path d="M438.1 432.3h.01M444.23 432.3h.01M450.35 432.3h.01M456.48 432.3h.01M462.61 432.29h.01M468.74 432.28h.01M474.86 432.27h.01M480.99 432.25h.01M487.12 432.2h.01M493.24 432.12h.01M499.37 431.98h.01M505.5 431.71h.01M511.63 431.24h.01M517.75 430.42h.01M523.88 428.98h.01M530.01 426.57h.01M536.13 422.61h.01M542.26 416.39h.01M548.39 407.09h.01M554.52 394.08h.01M560.64 377.38h.01M566.77 358.19h.01M572.9 339.22h.01M579.02 324.35h.01M585.15 317.33h.01M591.28 320.12h.01M597.41 331.93h.01M603.53 349.6h.01M609.66 369.12h.01M615.79 387.15h.01M621.91 401.84h.01M628.04 412.72h.01M634.17 420.2h.01M640.29 425.06h.01M646.42 428.07h.01M652.55 429.88h.01M658.68 430.94h.01M664.8 431.54h.01M670.93 431.88h.01M677.06 432.07h.01M683.18 432.17h.01M689.31 432.23h.01M695.44 432.26h.01M701.57 432.28h.01M707.69 432.29h.01M713.82 432.29h.01M719.95 432.3h.01M726.07 432.3h.01M732.2 432.3h.01M738.33 432.3h.01M744.46 432.3h.01M750.58 432.3h.01M756.71 432.3h.01M762.84 432.3h.01M768.96 432.3h.01M775.09 432.3h.01M781.22 432.3h.01M787.35 432.3h.01M793.47 432.3h.01M799.6 432.3h.01" stroke="#00ffff" stroke-width="7.5" stroke-linecap="round" fill="none"/>
<polyline fill="none" stroke="#ff0000" stroke-width="0.9" points="438.1,432.3 444.23,432.3 450.35,432.3 456.48,432.3 462.61,432.3 468.74,432.3 474.86,432.3 480.99,432.3 487.12,432.3 493.24,432.3 499.37,432.3 505.5,432.3 511.63,432.3 517.75,432.3 523.88,432.3 530.01,432.3 536.13,432.3 542.26,432.3 548.39,432.3 554.52,432.3 560.64,432.3 566.77,432.3 572.9,432.3 579.02,432.3 585.15,432.3 591.28,432.3 597.41,432.3 603.53,432.3 609.66,432.3 615.79,432.3 621.91,432.3 628.04,432.3 634.17,432.3 640.29,432.3 646.42,432.3 652.55,432.3 658.68,432.3 664.8,432.3 670.93,432.3 677.06,432.3 683.18,432.3 689.31,432.3 695.44,432.3 701.57,432.3 707.69,432.3 713.82,432.3 719.95,432.3 726.07,432.3 732.2,432.3 738.33,432.3 744.46,432.3 750.58,432.3 756.71,432.3 762.84,432.3 768.96,432.3 775.09,432.3 781.22,432.3 787.35,432.3 793.47,432.3 799.6,432.3"/>
<rect x="438.1" y="280.9" width="361.5" height="151.4" fill="none" stroke="#000" stroke-width="1.5"/>
<path d="M434.2 428.4l7.8 7.8M434.2 436.2l7.8 -7.8M440.33 428.4l7.8 7.8M440.33 436.2l7.8 -7.8M446.45 428.4l7.8 7.8M446.45 436.2l7.8 -7.8M452.58 428.4l7.8 7.8M452.58 436.2l7.8 -7.8M458.71 428.4l7.8 7.8M458.71 436.2l7.8 -7.8M464.84 428.4l7.8 7.8M464.84 436.2l7.8 -7.8M470.96 428.4l7.8 7.8M470.96 436.2l7.8 -7.8M477.09 428.4l7.8 7.8M477.09 436.2l7.8 -7.8M483.22 428.4l7.8 7.8M483.22 436.2l7.8 -7.8M489.34 428.4l7.8 7.8M489.34 436.2l7.8 -7.8M495.47 428.4l7.8 7.8M495.47 436.2l7.8 -7.8M501.6 428.4l7.8 7.8M501.6 436.2l7.8 -7.8M507.73 428.4l7.8 7.8M507.73 436.2l7.8 -7.8M513.85 428.4l7.8 7.8M513.85 436.2l7.8 -7.8M519.98 428.4l7.8 7.8M519.98 436.2l7.8 -7.8M526.11 428.4l7.8 7.8M526.11 436.2l7.8 -7.8M532.23 428.4l7.8 7.8M532.23 436.2l7.8 -7.8M538.36 428.4l7.8 7.8M538.36 436.2l7.8 -7.8M544.49 428.4l7.8 7.8M544.49 436.2l7.8 -7.8M550.62 428.4l7.8 7.8M550.62 436.2l7.8 -7.8M556.74 428.4l7.8 7.8M556.74 436.2l7.8 -7.8M562.87 428.4l7.8 7.8M562.87 436.2l7.8 -7.8M569 428.4l7.8 7.8M569 436.2l7.8 -7.8M575.12 428.4l7.8 7.8M575.12 436.2l7.8 -7.8M581.25 428.4l7.8 7.8M581.25 436.2l7.8 -7.8M587.38 428.4l7.8 7.8M587.38 436.2l7.8 -7.8M593.51 428.4l7.8 7.8M593.51 436.2l7.8 -7.8M599.63 428.4l7.8 7.8M599.63 436.2l7.8 -7.8M605.76 428.4l7.8 7.8M605.76 436.2l7.8 -7.8M611.89 428.4l7.8 7.8M611.89 436.2l7.8 -7.8M618.01 428.4l7.8 7.8M618.01 436.2l7.8 -7.8M624.14 428.4l7.8 7.8M624.14 436.2l7.8 -7.8M630.27 428.4l7.8 7.8M630.27 436.2l7.8 -7.8M636.39 428.4l7.8 7.8M636.39 436.2l7.8 -7.8M642.52 428.4l7.8 7.8M642.52 436.2l7.8 -7.8M648.65 428.4l7.8 7.8M648.65 436.2l7.8 -7.8M654.78 428.4l7.8 7.8M654.78 436.2l7.8 -7.8M660.9 428.4l7.8 7.8M660.9 436.2l7.8 -7.8M667.03 428.4l7.8 7.8M667.03 436.2l7.8 -7.8M673.16 428.4l7.8 7.8M673.16 436.2l7.8 -7.8M679.28 428.4l7.8 7.8M679.28 436.2l7.8 -7.8M685.41 428.4l7.8 7.8M685.41 436.2l7.8 -7.8M691.54 428.4l7.8 7.8M691.54 436.2l7.8 -7.8M697.67 428.4l7.8 7.8M697.67 436.2l7.8 -7.8M703.79 428.4l7.8 7.8M703.79 436.2l7.8 -7.8M709.92 428.4l7.8 7.8M709.92 436.2l7.8 -7.8M716.05 428.4l7.8 7.8M716.05 436.2l7.8 -7.8M722.17 428.4l7.8 7.8M722.17 436.2l7.8 -7.8M728.3 428.4l7.8 7.8M728.3 436.2l7.8 -7.8M734.43 428.4l7.8 7.8M734.43 436.2l7.8 -7.8M740.56 428.4l7.8 7.8M740.56 436.2l7.8 -7.8M746.68 428.4l7.8 7.8M746.68 436.2l7.8 -7.8M752.81 428.4l7.8 7.8M752.81 436.2l7.8 -7.8M758.94 428.4l7.8 7.8M758.94 436.2l7.8 -7.8M765.06 428.4l7.8 7.8M765.06 436.2l7.8 -7.8M771.19 428.4l7.8 7.8M771.19 436.2l7.8 -7.8M777.32 428.4l7.8 7.8M777.32 436.2l7.8 -7.8M783.45 428.4l7.8 7.8M783.45 436.2l7.8 -7.8M789.57 428.4l7.8 7.8M789.57 436.2l7.8 -7.8M795.7 428.4l7.8 7.8M795.7 436.2l7.8 -7.8" stroke="#ff0000" stroke-width="0.9" fill="none"/>
<text transform="translate(423.3 440.6) scale(0.96 1)" text-anchor="end" font-size="25">0</text>
<text transform="translate(423.3 402.75) scale(0.96 1)" text-anchor="end" font-size="25">1</text>
<text transform="translate(423.3 364.9) scale(0.96 1)" text-anchor="end" font-size="25">2</text>
<text transform="translate(423.3 327.05) scale(0.96 1)" text-anchor="end" font-size="25">3</text>
<text transform="translate(423.3 289.2) scale(0.96 1)" text-anchor="end" font-size="25">4</text>
<text transform="translate(448.8 304.2) scale(0.96 1)" text-anchor="start" font-size="25">(c)</text>
<text transform="translate(391.8 379) rotate(-90) scale(0.96 1)" text-anchor="start" font-size="25">n(i<tspan font-size="20" dy="7.2">1</tspan><tspan font-size="25" dy="-7.2">)</tspan></text>
<text transform="translate(496.54 464.2) scale(0.96 1)" text-anchor="middle" font-size="25">10</text>
<text transform="translate(557.82 464.2) scale(0.96 1)" text-anchor="middle" font-size="25">20</text>
<text transform="translate(619.09 464.2) scale(0.96 1)" text-anchor="middle" font-size="25">30</text>
<text transform="translate(680.36 464.2) scale(0.96 1)" text-anchor="middle" font-size="25">40</text>
<text transform="translate(741.63 464.2) scale(0.96 1)" text-anchor="middle" font-size="25">50</text>
<text transform="translate(802.9 464.2) scale(0.96 1)" text-anchor="middle" font-size="25">60</text>
<text transform="translate(640 480.4) scale(0.96 1)" text-anchor="start" font-size="25">i<tspan font-size="20" dy="6.4">1</tspan></text>
<text transform="translate(626.2 306.5) scale(0.96 1)" text-anchor="end" font-size="25">1</text>
<path d="M640.6 299H662.3" stroke="#ff0000" stroke-width="0.9"/>
<circle cx="651.45" cy="299" r="3.75" fill="#ff0000"/>
<text transform="translate(690.6 306.5) scale(0.96 1)" text-anchor="end" font-size="25">5</text>
<path d="M705 299H727" stroke="#000000" stroke-width="0.9"/>
<circle cx="716" cy="299" r="3.75" fill="#000000"/>
<text transform="translate(626.2 330.6) scale(0.96 1)" text-anchor="end" font-size="25">2</text>
<path d="M640.6 323.1H662.3" stroke="#0000ff" stroke-width="0.9"/>
<circle cx="651.45" cy="323.1" r="3.75" fill="#0000ff"/>
<text transform="translate(690.6 330.6) scale(0.96 1)" text-anchor="end" font-size="25">6</text>
<path d="M705 323.1H727" stroke="#ffa500" stroke-width="0.9"/>
<circle cx="716" cy="323.1" r="3.75" fill="#ffa500"/>
<text transform="translate(626.2 354.6) scale(0.96 1)" text-anchor="end" font-size="25">3</text>
<path d="M640.6 347.1H662.3" stroke="#00ff00" stroke-width="0.9"/>
<circle cx="651.45" cy="347.1" r="3.75" fill="#00ff00"/>
<text transform="translate(690.6 354.6) scale(0.96 1)" text-anchor="end" font-size="25">7</text>
<path d="M705 347.1H727" stroke="#00ffff" stroke-width="0.9"/>
<circle cx="716" cy="347.1" r="3.75" fill="#00ffff"/>
<text transform="translate(626.2 378.5) scale(0.96 1)" text-anchor="end" font-size="25">4</text>
<path d="M640.6 371H662.3" stroke="#ff00ff" stroke-width="0.9"/>
<circle cx="651.45" cy="371" r="3.75" fill="#ff00ff"/>
<text transform="translate(690.6 378.5) scale(0.96 1)" text-anchor="end" font-size="25">8</text>
<path d="M705 371H727" stroke="#ff0000" stroke-width="0.9"/>
<path d="M712.1 367.1l7.8 7.8M712.1 374.9l7.8 -7.8" stroke="#ff0000" stroke-width="0.9"/>
</g>
</svg></body></html>
